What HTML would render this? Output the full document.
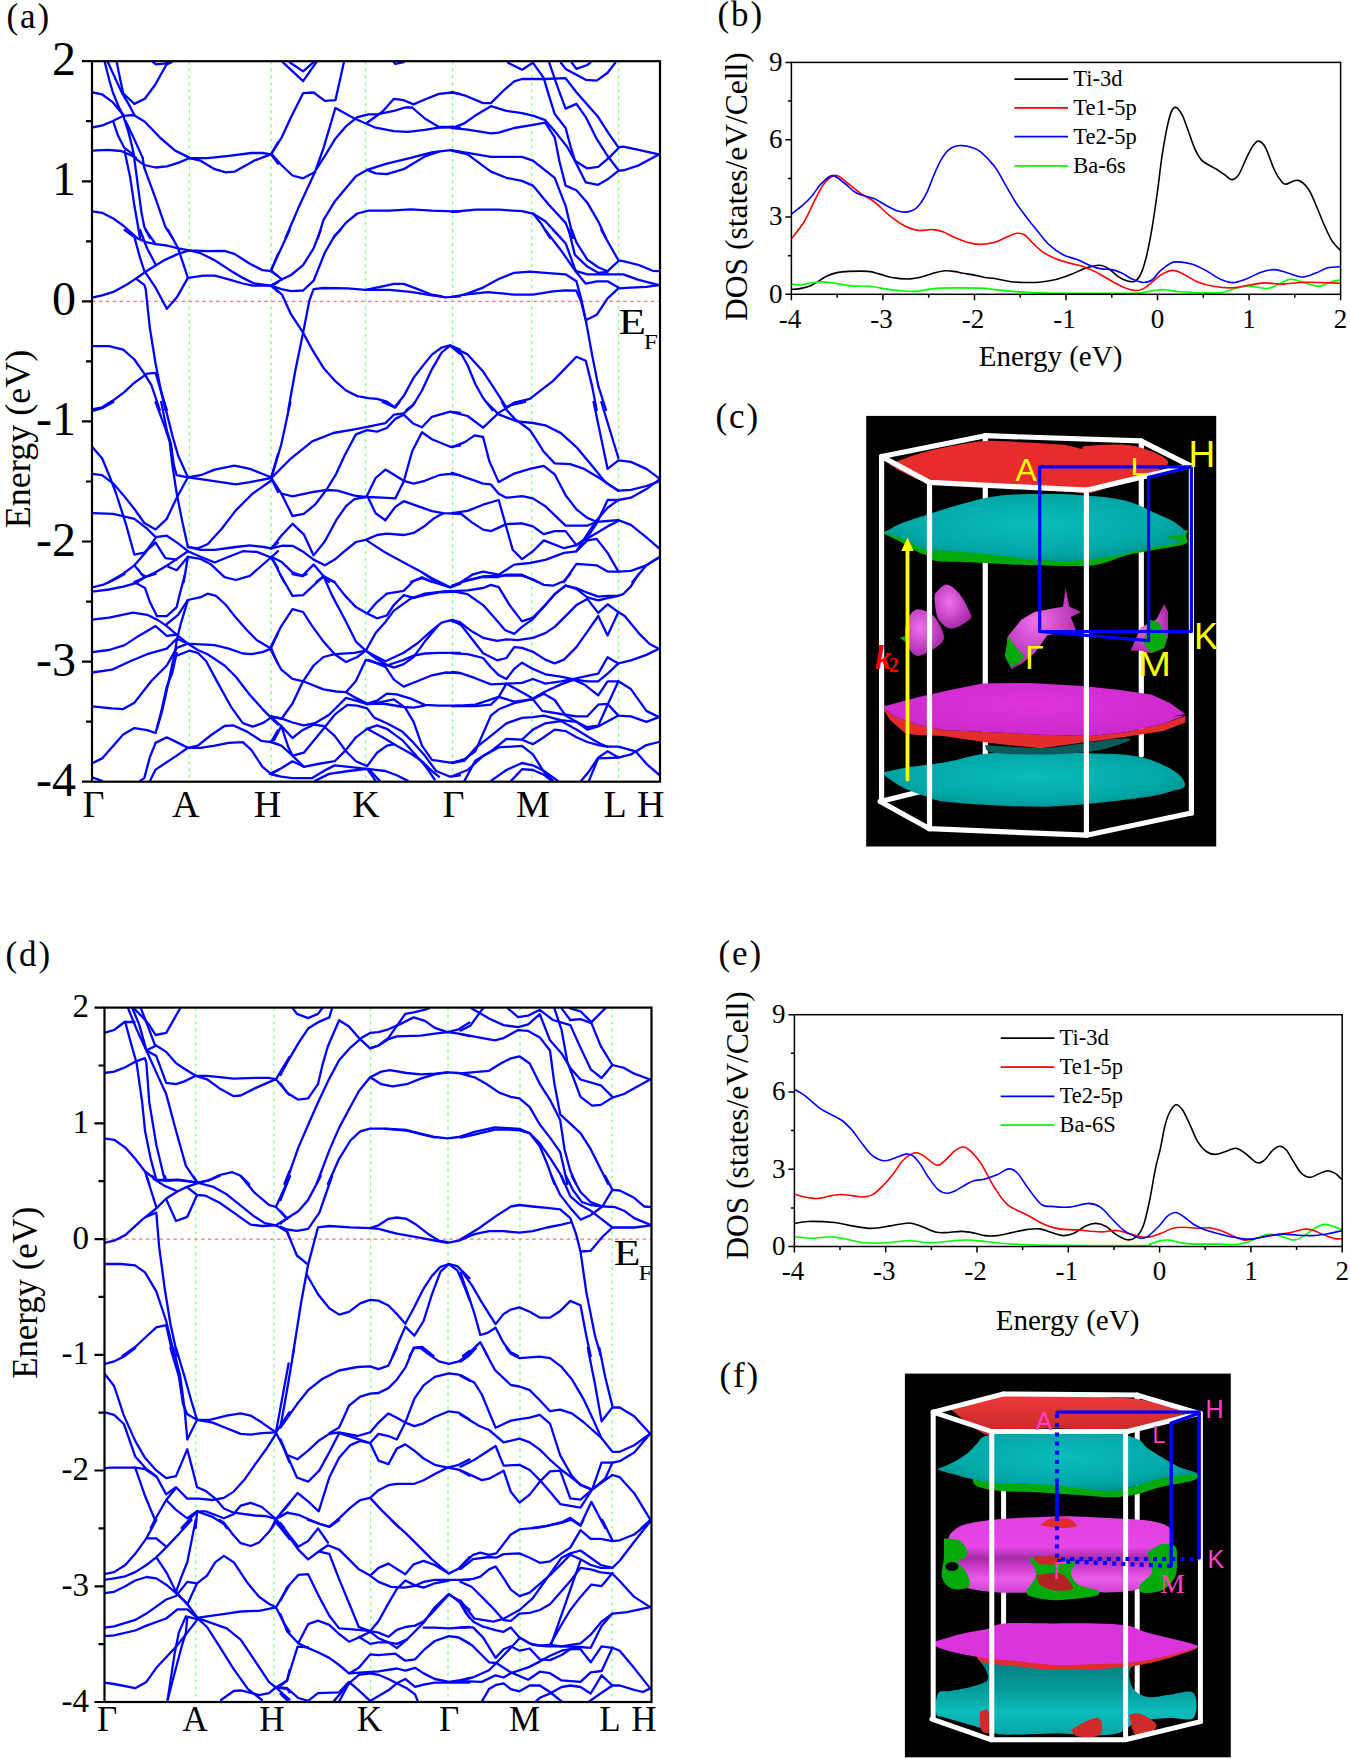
<!DOCTYPE html>
<html><head><meta charset="utf-8"><title>Figure</title>
<style>
html,body{margin:0;padding:0;background:#fff;}
body{width:1350px;height:1759px;overflow:hidden;}
svg{display:block;}
text{font-family:'Liberation Serif',serif;fill:#000;}
</style></head><body>
<svg width="1350" height="1759" viewBox="0 0 1350 1759">
<rect x="0" y="0" width="1350" height="1759" fill="#fff"/>
<text x="717.5" y="26" font-size="35" text-anchor="start" letter-spacing="1.9">(b)</text>
<clipPath id="clipb"><rect x="791.4" y="62.4" width="549.2" height="231.9"/></clipPath>
<g clip-path="url(#clipb)" fill="none" stroke-width="1.6" stroke-linejoin="round">
<path d="M791.7,289.3 C793.1,289.2 796.5,289.3 799.8,288.6 C803.1,287.9 807.2,287.2 811.7,285.2 C816.2,283.1 822.3,278.4 826.5,276.3 C830.7,274.2 833.2,273.4 836.9,272.6 C840.6,271.8 843.5,271.6 848.7,271.4 C853.9,271.2 862.8,270.9 868,271.4 C873.2,271.8 875.8,273.1 879.8,274.1 C883.8,275.1 887,276.7 891.7,277.5 C896.4,278.3 903.1,279.1 908,279 C912.9,278.9 917.1,277.9 921.3,277 C925.5,276.1 929.1,274.3 933.1,273.3 C937.1,272.3 941.3,271.1 945,270.8 C948.7,270.5 952.4,271.2 955.4,271.6 C958.4,272 959.6,272.7 962.8,273.3 C966,273.9 970.9,274.4 974.6,275.1 C978.3,275.8 981.6,276.9 985,277.5 C988.4,278.1 990.7,277.8 994.8,278.5 C998.9,279.2 1004.7,280.8 1009.6,281.5 C1014.5,282.2 1019.5,282.4 1024.4,282.5 C1029.4,282.6 1033.9,282.7 1039.3,282.2 C1044.7,281.7 1051.6,280.6 1057,279.3 C1062.4,278 1067,276 1071.9,274.1 C1076.9,272.2 1082,269.2 1086.7,267.7 C1091.4,266.2 1096.3,265 1100,265.2 C1103.7,265.4 1105.9,267 1108.9,268.9 C1111.9,270.8 1114.8,274.3 1117.8,276.3 C1120.8,278.3 1124,279.8 1126.7,280.7 C1129.4,281.6 1131.9,282.4 1134.1,281.5 C1136.3,280.6 1138,279.4 1140,275.6 C1142,271.8 1143.9,266.3 1145.9,258.5 C1147.9,250.7 1149.9,240.5 1151.9,228.9 C1153.9,217.3 1156.1,201.2 1157.8,188.9 C1159.5,176.6 1160.5,165.6 1162.2,154.8 C1163.9,144 1166.1,131.6 1167.8,124.1 C1169.5,116.6 1170.7,112.7 1172.2,110 C1173.7,107.3 1175,106.8 1176.7,107.8 C1178.4,108.8 1180.6,112 1182.6,115.9 C1184.6,119.9 1186.5,126.2 1188.5,131.5 C1190.5,136.8 1192.2,143 1194.4,147.8 C1196.6,152.6 1198.4,157 1201.9,160.4 C1205.4,163.8 1211.5,166.2 1215.2,168.5 C1218.9,170.8 1221.3,172.6 1224.1,174.4 C1226.9,176.2 1229.7,179.6 1232.2,179.6 C1234.7,179.6 1236.3,178.5 1238.9,174.4 C1241.5,170.3 1245.3,160.1 1247.8,155.2 C1250.3,150.3 1251.8,147.2 1253.7,144.8 C1255.6,142.5 1256.9,140.6 1258.9,141.1 C1260.9,141.6 1263,143 1265.6,147.8 C1268.2,152.6 1271.7,164.3 1274.4,170 C1277.1,175.7 1279.9,179.6 1281.9,181.9 C1283.9,184.2 1283.6,184.3 1286.3,184.1 C1289,183.8 1294.4,179.5 1298.1,180.4 C1301.8,181.3 1305.3,184.6 1308.5,189.3 C1311.7,194 1314.7,202.3 1317.4,208.5 C1320.1,214.7 1322.3,220.9 1324.8,226.3 C1327.3,231.7 1329.5,237 1332.2,241.1 C1334.9,245.2 1339.5,249.3 1341,251" stroke="#000"/>
<path d="M791.7,284.1 C793.1,284.2 797,285 799.8,284.9 C802.6,284.8 805,283.9 808.7,283.4 C812.4,282.9 817.5,281.9 822,281.9 C826.5,281.9 830.4,282.7 835.4,283.4 C840.4,284.1 846,285.4 851.7,285.9 C857.4,286.4 863.7,285.7 869.4,286.2 C875.1,286.7 880.5,288.1 885.7,288.9 C890.9,289.7 895.7,290.4 900.6,290.8 C905.5,291.2 911.2,291.5 915.4,291.4 C919.6,291.2 921.5,290.4 925.7,289.9 C929.9,289.3 931.6,288.4 940.6,288.1 C949.6,287.8 971,287.9 980,288.1 C989,288.4 989.9,289.1 994.8,289.6 C999.7,290.1 1003.4,290.6 1009.6,291.1 C1015.8,291.6 1022,292.2 1031.9,292.6 C1041.8,293 1052.9,293.2 1068.9,293.3 C1084.9,293.4 1115.8,293.4 1128.1,293.3 C1140.4,293.2 1138.5,293.1 1143,292.6 C1147.5,292.1 1151.2,290.9 1154.8,290.4 C1158.4,289.9 1160.7,289.5 1164.8,289.7 C1168.9,289.9 1173.4,291.3 1179.6,291.8 C1185.8,292.3 1195,292.6 1201.9,292.7 C1208.8,292.8 1215.9,293.3 1221.1,292.7 C1226.3,292.1 1228.5,290.4 1233,289.3 C1237.5,288.2 1242.1,286 1247.8,285.9 C1253.5,285.8 1261.8,288.8 1267,288.5 C1272.2,288.2 1275,285.6 1278.9,284.1 C1282.9,282.6 1286.5,279.6 1290.7,279.3 C1294.9,279.1 1299.4,281.4 1304.1,282.6 C1308.8,283.8 1314.5,286.4 1318.9,286.3 C1323.3,286.2 1327,283 1330.7,281.9 C1334.4,280.8 1339.3,280.2 1341,279.9" stroke="#0f0"/>
<path d="M791.7,238.5 C793.8,235.7 800.5,227.8 804.3,221.5 C808.1,215.2 811.4,206.9 814.6,200.7 C817.8,194.5 820.3,188.6 823.5,184.4 C826.7,180.2 831.2,176.8 833.9,175.6 C836.6,174.4 837.1,175.4 839.8,177 C842.5,178.6 846.7,182.5 850.2,185.2 C853.7,187.9 856.7,190.6 860.6,193.3 C864.5,196 869.2,197.9 873.9,201.5 C878.6,205.1 883.8,210.9 888.7,214.8 C893.6,218.8 898.6,222.6 903.5,225.2 C908.4,227.8 913.4,229.7 918.3,230.4 C923.2,231.1 928.9,229.3 933.1,229.6 C937.3,229.8 939.8,230.5 943.5,231.9 C947.2,233.3 951.4,236.1 955.4,237.8 C959.4,239.5 963.2,241.1 967.2,242.2 C971.2,243.3 974.5,244.4 979.1,244.4 C983.7,244.4 990.2,243.4 994.8,242.2 C999.4,241 1003,238.5 1006.7,237 C1010.4,235.5 1014,233.7 1017,233.3 C1020,232.9 1021.7,233.1 1024.4,234.8 C1027.1,236.5 1030.1,240.7 1033.3,243.7 C1036.5,246.7 1039.8,250 1043.7,252.6 C1047.7,255.2 1052.3,257.4 1057,259.3 C1061.7,261.2 1067.5,262.5 1071.9,263.7 C1076.4,264.9 1079.8,265.3 1083.7,266.7 C1087.7,268.1 1091.9,270 1095.6,271.9 C1099.3,273.8 1101.7,275.5 1105.9,277.8 C1110.1,280.1 1116,283.8 1120.7,285.9 C1125.4,288 1130.4,289.9 1134.1,290.4 C1137.8,290.9 1140,290.3 1143,288.9 C1146,287.5 1148.7,284.7 1151.9,282.2 C1155.1,279.7 1158.7,276.1 1162.2,274.1 C1165.7,272.1 1169.3,270.3 1173,270.4 C1176.7,270.4 1180,272.5 1184.1,274.4 C1188.2,276.3 1192.5,279.9 1197.4,281.9 C1202.3,283.9 1207.8,285.3 1213.7,286.3 C1219.6,287.3 1226.8,288.1 1233,287.8 C1239.2,287.6 1245.3,285.6 1250.7,284.8 C1256.1,284 1260.2,283 1265.6,282.9 C1271,282.8 1276.6,284.2 1283.3,284.1 C1290,284 1296,282.4 1305.6,282.3 C1315.2,282.2 1335.1,283.1 1341,283.3" stroke="#f00"/>
<path d="M791.7,214 C793.6,212.5 799.5,208.1 802.8,205.2 C806.1,202.2 808.7,199.8 811.7,196.3 C814.7,192.8 817.2,187.9 820.6,184.4 C824,180.9 828.5,175.8 832.4,175.6 C836.3,175.4 840.6,180.3 844.3,183 C848,185.7 851.4,189.8 854.6,191.9 C857.8,194 860.3,194.5 863.5,195.6 C866.7,196.7 870.2,196.9 873.9,198.5 C877.6,200.1 882,203.2 885.7,205.2 C889.4,207.2 892.6,209.2 896.1,210.4 C899.6,211.6 903.3,212.3 906.5,212.1 C909.7,211.8 912.9,210.6 915.4,208.9 C917.9,207.2 919.3,205 921.3,202.2 C923.3,199.4 925.2,196.1 927.2,191.9 C929.2,187.7 930.9,182.2 933.1,177 C935.3,171.8 938.1,165.1 940.6,160.7 C943.1,156.3 945.5,152.8 948,150.4 C950.5,148 952.9,147 955.4,146.2 C957.9,145.4 960.1,145.4 962.8,145.6 C965.5,145.8 968.7,146.3 971.7,147.4 C974.7,148.5 976.8,148.7 980.6,151.9 C984.5,155.1 990.7,161.3 994.8,166.7 C998.9,172.1 1001.7,178.5 1005.2,184.4 C1008.7,190.3 1011.9,196.5 1015.6,202.2 C1019.3,207.9 1023.5,213.3 1027.4,218.5 C1031.4,223.7 1035.6,228.9 1039.3,233.3 C1043,237.8 1045.6,241.6 1049.6,245.2 C1053.5,248.8 1058.5,252.5 1063,254.8 C1067.5,257.2 1071.6,257.5 1076.3,259.3 C1081,261.1 1086.9,264.3 1091.1,265.9 C1095.3,267.5 1098,268.3 1101.5,268.9 C1105,269.5 1108.5,268.9 1111.9,269.6 C1115.4,270.3 1118.8,271.7 1122.2,273.3 C1125.7,274.9 1129.1,277.8 1132.6,279.3 C1136.1,280.8 1139.8,282.4 1143,282.5 C1146.2,282.6 1149,282 1151.9,280 C1154.9,278 1157.5,273.2 1160.7,270.4 C1163.9,267.6 1168.4,264.4 1171.1,263 C1173.8,261.6 1173.3,261.7 1176.7,261.9 C1180.1,262.1 1186.6,262.6 1191.5,264.1 C1196.4,265.6 1201.4,268.1 1206.3,270.7 C1211.2,273.3 1216.6,277.6 1221.1,279.6 C1225.5,281.6 1228.8,282.7 1233,282.6 C1237.2,282.5 1241.6,280.6 1246.3,278.9 C1251,277.2 1256.4,273.8 1261.1,272.2 C1265.8,270.6 1270,269.5 1274.4,269.6 C1278.9,269.7 1283.1,271.8 1287.8,273 C1292.5,274.2 1297.9,277 1302.6,277 C1307.3,277 1311.7,274.5 1315.9,273 C1320.1,271.5 1323.6,268.9 1327.8,267.8 C1332,266.7 1338.8,266.8 1341,266.6" stroke="#00f"/>
</g>
<rect x="791.4" y="62.4" width="549.2" height="231.9" fill="none" stroke="#000" stroke-width="1.5"/>
<path d="M785.4,294.3 H791.4 M785.4,217 H791.4 M785.4,139.7 H791.4 M785.4,62.4 H791.4 M787.9,255.7 H791.4 M787.9,178.4 H791.4 M787.9,101.1 H791.4 M791.4,294.3 V300.3 M837.2,294.3 V297.8 M882.9,294.3 V300.3 M928.7,294.3 V297.8 M974.5,294.3 V300.3 M1020.2,294.3 V297.8 M1066,294.3 V300.3 M1111.8,294.3 V297.8 M1157.5,294.3 V300.3 M1203.3,294.3 V297.8 M1249.1,294.3 V300.3 M1294.8,294.3 V297.8 M1340.6,294.3 V300.3" stroke="#000" stroke-width="1.5" fill="none"/>
<text x="782.4" y="302.6" font-size="27" text-anchor="end" >0</text>
<text x="782.4" y="225.3" font-size="27" text-anchor="end" >3</text>
<text x="782.4" y="148" font-size="27" text-anchor="end" >6</text>
<text x="782.4" y="70.7" font-size="27" text-anchor="end" >9</text>
<text x="789.9" y="327.8" font-size="27" text-anchor="middle" >-4</text>
<text x="881.4" y="327.8" font-size="27" text-anchor="middle" >-3</text>
<text x="973" y="327.8" font-size="27" text-anchor="middle" >-2</text>
<text x="1064.5" y="327.8" font-size="27" text-anchor="middle" >-1</text>
<text x="1157.5" y="327.8" font-size="27" text-anchor="middle" >0</text>
<text x="1249.1" y="327.8" font-size="27" text-anchor="middle" >1</text>
<text x="1340.6" y="327.8" font-size="27" text-anchor="middle" >2</text>
<text x="1050.5" y="365.7" font-size="29" text-anchor="middle" >Energy (eV)</text>
<text x="0" y="0" font-size="31.5" text-anchor="middle" transform="translate(747,186.6) rotate(-90)">DOS (states/eV/Cell)</text>
<path d="M1014.4,79.2 H1068.1" stroke="#000" stroke-width="1.8"/>
<text x="1073.3" y="86.2" font-size="22.5" text-anchor="start" >Ti-3d</text>
<path d="M1014.4,107.8 H1068.1" stroke="#f00" stroke-width="1.8"/>
<text x="1073.3" y="114.8" font-size="22.5" text-anchor="start" >Te1-5p</text>
<path d="M1014.4,136.7 H1068.1" stroke="#00f" stroke-width="1.8"/>
<text x="1073.3" y="143.7" font-size="22.5" text-anchor="start" >Te2-5p</text>
<path d="M1014.4,165.9 H1068.1" stroke="#0f0" stroke-width="1.8"/>
<text x="1073.3" y="172.9" font-size="22.5" text-anchor="start" >Ba-6s</text>
<text x="718.5" y="965" font-size="35" text-anchor="start" letter-spacing="1.9">(e)</text>
<clipPath id="clipe"><rect x="794.4" y="1014.7" width="547.8" height="231.8"/></clipPath>
<g clip-path="url(#clipe)" fill="none" stroke-width="1.6" stroke-linejoin="round">
<path d="M794.7,1223.4 C796.9,1223.1 801.2,1221.7 807.8,1221.5 C814.4,1221.3 827,1221.8 834.4,1222.5 C841.8,1223.2 846,1224.9 852.2,1225.9 C858.4,1226.9 865.1,1228.4 871.5,1228.4 C877.9,1228.4 884.5,1226.8 890.7,1225.9 C896.9,1225 903.5,1223 908.5,1223 C913.5,1223 915.9,1224.4 920.4,1225.9 C924.9,1227.4 931,1230.8 935.2,1231.9 C939.4,1233 941.2,1232.7 945.6,1232.6 C950,1232.5 957,1231.3 961.9,1231.4 C966.8,1231.5 971.4,1232.6 975.2,1233.3 C979.1,1234 981.4,1235.2 985,1235.6 C988.6,1236 992.4,1236.1 996.9,1235.6 C1001.4,1235.1 1006.8,1233.6 1011.7,1232.6 C1016.6,1231.6 1021.8,1230.2 1026.5,1229.6 C1031.2,1229 1035.6,1228.4 1039.8,1228.9 C1044,1229.4 1047.8,1231.5 1051.7,1232.6 C1055.7,1233.7 1059.8,1235.5 1063.5,1235.6 C1067.2,1235.7 1070.2,1234.9 1073.9,1233.3 C1077.6,1231.7 1082,1227.6 1085.7,1225.9 C1089.4,1224.2 1092.6,1223.3 1096.1,1223.4 C1099.6,1223.5 1103.3,1224.9 1106.5,1226.7 C1109.7,1228.5 1112,1231.9 1115.4,1234.1 C1118.9,1236.3 1123.8,1239.2 1127.2,1239.7 C1130.7,1240.2 1133.4,1239.4 1136.1,1237 C1138.8,1234.6 1141.3,1231.1 1143.5,1225.2 C1145.7,1219.3 1147.4,1210.9 1149.4,1201.5 C1151.4,1192.1 1153.6,1177.7 1155.4,1168.9 C1157.2,1160.1 1158.8,1155.6 1160.4,1148.5 C1162,1141.4 1163.3,1132.2 1164.8,1126.3 C1166.3,1120.4 1167.4,1116.6 1169.3,1113 C1171.2,1109.4 1173.7,1105.3 1175.9,1104.8 C1178.1,1104.3 1180.2,1106.7 1182.6,1110 C1184.9,1113.3 1187.5,1119.6 1190,1124.8 C1192.5,1130 1194.7,1136.6 1197.4,1141.1 C1200.1,1145.5 1203.3,1149.3 1206.3,1151.5 C1209.3,1153.7 1212,1154.4 1215.2,1154.4 C1218.4,1154.4 1222.1,1152.5 1225.6,1151.5 C1229,1150.5 1232.7,1148 1235.9,1148.2 C1239.1,1148.5 1241.3,1150.6 1244.8,1153 C1248.3,1155.4 1253.5,1161.4 1256.7,1162.6 C1259.9,1163.8 1261.4,1162.5 1264.1,1160.4 C1266.8,1158.3 1270.4,1152.3 1273,1150 C1275.6,1147.7 1277.4,1146.3 1279.6,1146.3 C1281.8,1146.3 1283.9,1147.4 1286.3,1150 C1288.7,1152.6 1291.2,1158.1 1293.7,1161.9 C1296.2,1165.7 1298.4,1170.4 1301.1,1173 C1303.8,1175.6 1307,1177.3 1310,1177.4 C1313,1177.5 1315.9,1174.8 1318.9,1173.7 C1321.9,1172.6 1325.1,1170.8 1327.8,1170.7 C1330.5,1170.7 1332.8,1171.9 1335.2,1173.4 C1337.6,1174.9 1340.9,1178.6 1342,1179.6" stroke="#000"/>
<path d="M794.7,1236.7 C797.6,1237 806.1,1238.2 812.2,1238.2 C818.3,1238.2 825.8,1236.5 831.5,1236.7 C837.2,1236.9 840.9,1238.3 846.3,1239.3 C851.7,1240.3 858.2,1242.1 864.1,1242.7 C870,1243.3 874.5,1243.3 881.9,1243 C889.3,1242.7 900.4,1240.8 908.5,1240.7 C916.6,1240.7 923.3,1242.7 930.7,1242.7 C938.1,1242.7 946.8,1241.2 953,1240.7 C959.2,1240.2 962.5,1239.9 967.8,1240 C973.1,1240.1 978.4,1240.9 985,1241.5 C991.6,1242.1 997.3,1243.1 1007.2,1243.7 C1017.1,1244.3 1022.1,1244.9 1044.3,1245.2 C1066.5,1245.5 1123,1245.8 1140.6,1245.6 C1158.2,1245.4 1147,1244.8 1150,1244.1 C1153,1243.3 1155.7,1241.8 1158.9,1241.1 C1162.1,1240.4 1165.8,1239.8 1169.3,1240.1 C1172.8,1240.3 1175.4,1241.9 1179.6,1242.6 C1183.8,1243.3 1188.2,1243.8 1194.4,1244.1 C1200.6,1244.3 1209.8,1244 1216.7,1244.1 C1223.6,1244.2 1231,1244.8 1235.9,1244.5 C1240.8,1244.2 1242.8,1243.7 1246.3,1242.6 C1249.8,1241.5 1253,1239.5 1256.7,1238.1 C1260.4,1236.7 1264.8,1234.8 1268.5,1234.4 C1272.2,1234 1274.7,1234.6 1278.9,1235.6 C1283.1,1236.5 1289.5,1240 1293.7,1240.1 C1297.9,1240.1 1300.6,1237.8 1304.1,1235.9 C1307.5,1234 1311,1230.4 1314.4,1228.5 C1317.9,1226.6 1321.3,1224.7 1324.8,1224.4 C1328.3,1224.2 1332.3,1226.1 1335.2,1227 C1338.1,1227.9 1340.9,1229.5 1342,1230" stroke="#0f0"/>
<path d="M794.7,1194.1 C796.4,1194.6 800.9,1196.3 804.8,1197 C808.7,1197.7 814.1,1198.6 818.1,1198.5 C822.1,1198.4 824.8,1197 828.5,1196.3 C832.2,1195.6 836.4,1194.6 840.4,1194.5 C844.4,1194.4 848.5,1195.2 852.2,1195.6 C855.9,1196 859.1,1197.2 862.6,1197 C866.1,1196.8 869.3,1196.6 873,1194.4 C876.7,1192.2 881.3,1187.2 884.8,1183.7 C888.2,1180.2 890.7,1177.1 893.7,1173.3 C896.7,1169.5 899.2,1164.1 902.6,1160.7 C906,1157.3 911,1153.8 914.4,1152.9 C917.8,1152.1 919.6,1153.5 923.3,1155.6 C927,1157.6 933,1164.5 936.7,1165.2 C940.4,1165.9 942.7,1162.3 945.6,1160 C948.5,1157.7 951.5,1153.3 954.4,1151.1 C957.3,1148.9 960.6,1147 963.3,1147 C966,1147 968,1148.7 970.7,1151.1 C973.4,1153.5 977.2,1158.3 979.6,1161.5 C982,1164.7 982.6,1166.2 985,1170.4 C987.4,1174.6 990.2,1181 993.9,1186.7 C997.6,1192.4 1001.8,1199.7 1007.2,1204.4 C1012.6,1209.1 1020.3,1211.5 1026.5,1214.8 C1032.7,1218.1 1038.9,1222.1 1044.3,1224.4 C1049.7,1226.8 1053.7,1228 1059.1,1228.9 C1064.5,1229.8 1070,1229.4 1076.9,1229.9 C1083.8,1230.4 1094.2,1231.8 1100.6,1231.9 C1107,1232 1111.2,1230.3 1115.4,1230.4 C1119.6,1230.5 1121.5,1231.5 1125.7,1232.6 C1129.9,1233.6 1136.5,1236 1140.6,1236.7 C1144.6,1237.4 1146.5,1237.5 1150,1236.9 C1153.5,1236.3 1158.2,1234.4 1161.9,1233 C1165.6,1231.6 1168.8,1229.5 1172.2,1228.5 C1175.7,1227.5 1178.4,1227.3 1182.6,1227.3 C1186.8,1227.2 1193,1228.1 1197.4,1228.2 C1201.9,1228.3 1205.3,1227.4 1209.3,1227.8 C1213.2,1228.2 1217.1,1229.3 1221.1,1230.7 C1225,1232.1 1229,1234.3 1233,1235.9 C1237,1237.5 1240.8,1239.7 1244.8,1240.1 C1248.8,1240.5 1252.2,1238.9 1256.7,1238.1 C1261.2,1237.3 1266.3,1236 1271.5,1235.2 C1276.7,1234.4 1282.4,1234 1287.8,1233 C1293.2,1232 1299.9,1229.8 1304.1,1229.3 C1308.3,1228.8 1309.5,1229.3 1313,1230.3 C1316.5,1231.3 1321.1,1233.8 1324.8,1235.2 C1328.5,1236.6 1332.3,1238 1335.2,1238.6 C1338.1,1239.2 1340.9,1238.6 1342,1238.6" stroke="#f00"/>
<path d="M794.7,1089.6 C796.4,1090.6 800.6,1092.5 804.8,1095.6 C808.9,1098.7 814.7,1104.6 819.6,1108.1 C824.5,1111.5 830.5,1114.1 834.4,1116.3 C838.3,1118.5 840.3,1119.2 843.3,1121.5 C846.3,1123.8 849.2,1127 852.2,1130.4 C855.2,1133.9 857.9,1138.1 861.1,1142.2 C864.3,1146.3 867.8,1151.7 871.5,1154.8 C875.2,1157.9 879.6,1160.1 883.3,1160.7 C887,1161.3 890,1159.6 893.7,1158.5 C897.4,1157.4 902.4,1154.5 905.6,1154.1 C908.8,1153.7 910.5,1154.2 913,1155.9 C915.5,1157.6 917.7,1160.6 920.4,1164.4 C923.1,1168.2 926.3,1174.3 929.3,1178.5 C932.2,1182.7 935.1,1187.1 938.1,1189.6 C941.1,1192.1 944,1193.2 947,1193.3 C950,1193.4 952.9,1191.8 955.9,1190.4 C958.9,1189.1 961.8,1186.8 964.8,1185.2 C967.8,1183.6 970.3,1181.7 973.7,1180.7 C977.1,1179.7 981.1,1180 985,1179 C988.9,1178 992.9,1176.5 996.9,1174.8 C1000.9,1173.1 1005.2,1169.2 1008.7,1168.9 C1012.2,1168.7 1014.4,1170.1 1017.6,1173.3 C1020.8,1176.5 1024,1182.9 1028,1188.1 C1032,1193.3 1037.3,1201.4 1041.3,1204.4 C1045.2,1207.5 1047,1206 1051.7,1206.4 C1056.4,1206.9 1063.2,1207.6 1069.4,1207.1 C1075.6,1206.6 1083.5,1203.4 1088.7,1203.4 C1093.9,1203.5 1096.9,1205 1100.6,1207.4 C1104.3,1209.8 1107.2,1214.1 1110.9,1217.8 C1114.6,1221.5 1119.1,1226.6 1122.8,1229.6 C1126.5,1232.6 1130.1,1234.2 1133.1,1235.6 C1136.1,1237 1138.1,1238.1 1140.6,1238.2 C1143.1,1238.3 1144.8,1238.5 1148,1236.3 C1151.2,1234.1 1156.5,1228.6 1159.8,1225.2 C1163.1,1221.8 1165.1,1218 1167.8,1215.9 C1170.5,1213.8 1173.2,1212.3 1175.9,1212.5 C1178.6,1212.7 1181,1215 1184.1,1217 C1187.2,1219 1190.7,1222.6 1194.4,1224.8 C1198.1,1227 1201.3,1228.6 1206.3,1230.3 C1211.2,1232 1218.2,1233.8 1224.1,1235.2 C1230,1236.6 1237,1238 1241.9,1238.6 C1246.8,1239.2 1249.3,1239.4 1253.7,1238.9 C1258.1,1238.5 1263.6,1236.7 1268.5,1235.9 C1273.4,1235.1 1278.4,1234.2 1283.3,1234.1 C1288.2,1234 1293.1,1235 1298.1,1235.2 C1303,1235.5 1308,1235.8 1313,1235.6 C1318,1235.3 1323,1234.5 1327.8,1233.7 C1332.6,1232.9 1339.6,1231.2 1342,1230.7" stroke="#00f"/>
</g>
<rect x="794.4" y="1014.7" width="547.8" height="231.8" fill="none" stroke="#000" stroke-width="1.5"/>
<path d="M788.4,1246.5 H794.4 M788.4,1169.2 H794.4 M788.4,1092 H794.4 M788.4,1014.7 H794.4 M790.9,1207.9 H794.4 M790.9,1130.6 H794.4 M790.9,1053.3 H794.4 M794.4,1246.5 V1252.5 M840,1246.5 V1250 M885.7,1246.5 V1252.5 M931.4,1246.5 V1250 M977,1246.5 V1252.5 M1022.6,1246.5 V1250 M1068.3,1246.5 V1252.5 M1114,1246.5 V1250 M1159.6,1246.5 V1252.5 M1205.2,1246.5 V1250 M1250.9,1246.5 V1252.5 M1296.6,1246.5 V1250 M1342.2,1246.5 V1252.5" stroke="#000" stroke-width="1.5" fill="none"/>
<text x="785.4" y="1254.8" font-size="27" text-anchor="end" >0</text>
<text x="785.4" y="1177.5" font-size="27" text-anchor="end" >3</text>
<text x="785.4" y="1100.3" font-size="27" text-anchor="end" >6</text>
<text x="785.4" y="1023" font-size="27" text-anchor="end" >9</text>
<text x="792.9" y="1280" font-size="27" text-anchor="middle" >-4</text>
<text x="884.2" y="1280" font-size="27" text-anchor="middle" >-3</text>
<text x="975.5" y="1280" font-size="27" text-anchor="middle" >-2</text>
<text x="1066.8" y="1280" font-size="27" text-anchor="middle" >-1</text>
<text x="1159.6" y="1280" font-size="27" text-anchor="middle" >0</text>
<text x="1250.9" y="1280" font-size="27" text-anchor="middle" >1</text>
<text x="1342.2" y="1280" font-size="27" text-anchor="middle" >2</text>
<text x="1067.5" y="1330.4" font-size="29" text-anchor="middle" >Energy (eV)</text>
<text x="0" y="0" font-size="31.5" text-anchor="middle" transform="translate(748,1125.5) rotate(-90)">DOS (states/eV/Cell)</text>
<path d="M1000.7,1038.1 H1054.4" stroke="#000" stroke-width="1.8"/>
<text x="1059.6" y="1045.1" font-size="22.5" text-anchor="start" >Ti-3d</text>
<path d="M1000.7,1067.1 H1054.4" stroke="#f00" stroke-width="1.8"/>
<text x="1059.6" y="1074.1" font-size="22.5" text-anchor="start" >Te1-5p</text>
<path d="M1000.7,1096.3 H1054.4" stroke="#00f" stroke-width="1.8"/>
<text x="1059.6" y="1103.3" font-size="22.5" text-anchor="start" >Te2-5p</text>
<path d="M1000.7,1125.2 H1054.4" stroke="#0f0" stroke-width="1.8"/>
<text x="1059.6" y="1132.2" font-size="22.5" text-anchor="start" >Ba-6S</text>
<text x="6.5" y="28" font-size="35" text-anchor="start" letter-spacing="1.9">(a)</text>
<path d="M189.3,61.2 V781.7" stroke="#80ff80" stroke-width="1.3" stroke-dasharray="3,4" fill="none"/>
<path d="M271.2,61.2 V781.7" stroke="#80ff80" stroke-width="1.3" stroke-dasharray="3,4" fill="none"/>
<path d="M365.5,61.2 V781.7" stroke="#80ff80" stroke-width="1.3" stroke-dasharray="3,4" fill="none"/>
<path d="M452.6,61.2 V781.7" stroke="#80ff80" stroke-width="1.3" stroke-dasharray="3,4" fill="none"/>
<path d="M531.7,61.2 V781.7" stroke="#80ff80" stroke-width="1.3" stroke-dasharray="3,4" fill="none"/>
<path d="M618.6,61.2 V781.7" stroke="#80ff80" stroke-width="1.3" stroke-dasharray="3,4" fill="none"/>
<path d="M92,301.4 H660" stroke="#ff6e6e" stroke-width="1.3" stroke-dasharray="3.4,3.5" fill="none"/>
<path d="M82,781.7 H92 M82,661.6 H92 M82,541.5 H92 M82,421.4 H92 M82,301.4 H92 M82,181.3 H92 M82,61.2 H92 M86,721.7 H92 M86,601.6 H92 M86,481.5 H92 M86,361.4 H92 M86,241.3 H92 M86,121.2 H92" stroke="#000" stroke-width="2.2" fill="none"/>
<text x="76" y="795.6" font-size="48" text-anchor="end" >-4</text>
<text x="76" y="675.5" font-size="48" text-anchor="end" >-3</text>
<text x="76" y="555.5" font-size="48" text-anchor="end" >-2</text>
<text x="76" y="435.4" font-size="48" text-anchor="end" >-1</text>
<text x="76" y="315.3" font-size="48" text-anchor="end" >0</text>
<text x="76" y="195.2" font-size="48" text-anchor="end" >1</text>
<text x="76" y="75.1" font-size="48" text-anchor="end" >2</text>
<text x="93.4" y="816.7" font-size="38" text-anchor="middle" >&#915;</text>
<text x="185.8" y="816.7" font-size="38" text-anchor="middle" >A</text>
<text x="267.4" y="816.7" font-size="38" text-anchor="middle" >H</text>
<text x="366" y="816.7" font-size="38" text-anchor="middle" >K</text>
<text x="453.4" y="816.7" font-size="38" text-anchor="middle" >&#915;</text>
<text x="533" y="816.7" font-size="38" text-anchor="middle" >M</text>
<text x="615" y="816.7" font-size="38" text-anchor="middle" >L</text>
<text x="650.7" y="816.7" font-size="38" text-anchor="middle" >H</text>
<text x="0" y="0" font-size="36" transform="translate(618.5,333.8) scale(1.25,1)">E</text>
<text x="0" y="0" font-size="21.6" transform="translate(643.8,348.9) scale(1.18,1)">F</text>
<text x="0" y="0" font-size="36" text-anchor="middle" transform="translate(30,439) rotate(-90)">Energy (eV)</text>
<clipPath id="clipA"><rect x="92" y="61.2" width="568" height="720.5"/></clipPath>
<g clip-path="url(#clipA)" fill="none" stroke="#00f" stroke-width="2.3" stroke-linejoin="round" stroke-linecap="round">
<path d="M104.8,62.1 L109.3,80.2 L113,92.8 L118.1,105.4 L123.3,115.8 L128.5,132.1 L132.2,146.9 L134.4,157.3"/>
<path d="M107.8,62.1 L114.4,76.5 L121.9,92.8 L128.5,103.9 L134.4,115"/>
<path d="M116.7,62.1 L120.4,80.2 L123.3,93.6 L134.4,103.9 L144.8,98.7 L155.2,84.7 L166.3,64.7 L171.5,62.1"/>
<path d="M153,62.1 L155.9,64.3 L164.1,63.6 L167.8,63.2"/>
<path d="M91.5,92.1 L101.9,94.3 L113,102.4 L123.3,115"/>
<path d="M91.5,127.6 L102.6,125.4 L113,121 L123.3,115.8 L133.7,115 L144.8,121.7 L160.4,138 L175.2,150.6 L189.3,157.6"/>
<path d="M113,121 L118.1,135.8 L124.1,147.6 L133,154.3"/>
<path d="M125.6,121 L134.4,139.5 L142.6,157.6"/>
<path d="M91.5,150.6 L107.8,149.9 L121.1,151 L128.5,154.3 L135.9,157.6"/>
<path d="M134.4,157.9 L144.3,165 L155.6,167.5 L166.8,166.4 L178.1,162.9 L189.3,158.2"/>
<path d="M189.3,158.2 L207.6,158.2 L228.7,155.8 L251.3,153 L262.5,153 L271,154.4"/>
<path d="M189.3,158.2 L200.6,160.7 L214.7,169.2 L225.9,172.3 L234.4,171.7 L254.1,160.7 L271,154.4"/>
<path d="M271,154.4 L278,142.4"/>
<path d="M271,154.4 L278,163.6"/>
<path d="M124.6,150.9 L130.2,177.6 L134.4,205.8 L140.1,238"/>
<path d="M134.4,159.3 L141.5,212.8 L144.3,226.9 L149.9,238"/>
<path d="M144.3,167.8 L155.6,198.7 L165.4,226.9 L172.4,238"/>
<path d="M92.2,211.4 L102.1,212.8 L113.3,218.5 L123.2,225.5 L137.3,238"/>
<path d="M282.7,62.2 L303.1,81.2 L316.4,62.2"/>
<path d="M289.7,62.2 L303.1,71.4 L313.6,62.2"/>
<path d="M271.4,153.7 L281.3,138.2 L291.1,117.1 L303.1,93.2 L313.6,92.5 L324.9,100.9 L335.4,100.2 L343.9,62.2"/>
<path d="M271.4,153.7 L281.3,165 L292.5,175.5 L303.1,178.3 L315,172"/>
<path d="M285.5,238 L298.1,208.6 L315,172 L323.5,148.1 L335.4,108 L354.4,118.5 L375.6,127.7 L393.9,131.2 L407.9,131.9 L424.8,129.8 L438.9,127.7 L453,127 L460,127.7"/>
<path d="M317.9,238 L323.5,219.9 L334.7,201.6 L355.9,176.2 L367.1,169.9 L386.8,163.6 L410.7,157.9 L431.9,152.3 L450.2,150.2 L460,151.6"/>
<path d="M367.1,169.9 L375.6,173.4 L386.8,174.1 L403.7,169.2 L424.8,156.5 L438.9,151.6"/>
<path d="M316.4,169.2 L326.3,153.7 L334.7,139.6 L346,126.3 L357.3,117.1 L368.5,114.3 L377,114.3 L393.9,110.8 L405.1,107.5 L412.2,107.5 L424.8,118.5 L438.9,127 L453,127"/>
<path d="M367.1,122.7 L382.6,111.5 L393.9,98.8 L403.7,100.2 L413.6,104.4 L424.8,99.5 L438.9,93.9 L451.6,92.5 L460,93.9"/>
<path d="M333.3,238 L346,222.7 L357.3,213.5 L368.5,210.7 L389.6,210.7 L410.7,209.3 L431.9,210.7 L453,211.4 L460,211.4"/>
<path d="M393.9,62.2 L395.3,63.9 L403.7,62.2"/>
<path d="M508,62.7 L522,69.7 L532.9,62.7"/>
<path d="M532.9,62.7 L543.8,78.2 L548.4,93.8 L554.7,114 L565.6,128 L570.2,145.1 L574.9,160.7 L587.3,168.4 L598.2,166.9 L609.1,157.6 L618.4,148.2"/>
<path d="M549.2,62.7 L557.8,87.6 L565.6,108.6 L576.4,103.9 L585.8,117.1 L596.7,138.9 L607.6,156 L618.4,170"/>
<path d="M560.9,62.7 L565.6,68.9 L585.8,79.8 L596.7,80.6 L607.6,72.8 L615.3,62.7"/>
<path d="M571.8,62.7 L576.4,68.9 L587.3,65 L590.4,62.7"/>
<path d="M452,92.2 L464.4,95.3 L483.1,103.1 L490.9,103.1 L503.3,90.7 L514.2,81.3 L522,79 L545.3,79 L565.6,78.2 L576.4,92.2 L598.2,117.1 L609.1,134.2 L618.4,147.4"/>
<path d="M452,128 L464.4,123.3 L475.3,115.6 L490.9,106.2 L506.4,110.9 L522,113.2 L532.9,115.6 L545.3,120.2 L554.7,131.1 L567.1,146.7 L574.9,160.7 L585.8,182.4 L598.2,184.8 L607.6,179.3 L618.4,170.8 L624.7,170 L638.7,165.3 L658.9,154.4"/>
<path d="M452,128 L467.6,129.6 L490.9,133.4 L498.7,132.7 L514.2,128 L532.9,124.9 L545.3,122.6 L554.7,137.3 L559.3,160.7 L565.6,185.6 L576.4,190.2 L587.3,202.7 L598.2,221.3 L606,238"/>
<path d="M618.4,147.4 L623.1,146.7 L638.7,149.8 L658.9,154.4"/>
<path d="M452,150.6 L467.6,152.9 L490.9,156.8 L522,156.8 L532.9,160.7 L554.7,177.8 L565.6,205.8 L573.3,238"/>
<path d="M452,150.6 L467.6,154.4 L490.9,171.6 L506.4,177.8 L522,180.9 L532.9,185.6 L548.4,204.2 L565.6,222.9 L571.8,238"/>
<path d="M452,212 L475.3,209.7 L498.7,209.7 L522,211.2 L532.9,213.6 L545.3,221.3 L560.9,238"/>
<path d="M532.9,213.6 L540.7,222.9 L550,238"/>
<path d="M124.6,230 L134.4,237 L145.7,242 L155.6,244.1 L166.8,245.5 L178.1,248.3 L189.3,250.4 L207.6,251.1 L224.5,250.8 L234.4,253.9 L249.9,263.8 L262.5,270.1 L271,271.1"/>
<path d="M271,271.1 L278,253.9"/>
<path d="M271,271.1 L278,276.4"/>
<path d="M134.4,237 L140.1,258.1 L144.3,270.8 L155.6,287.7 L166.8,308.8 L176.7,297.6 L187.9,277.9"/>
<path d="M187.9,277.9 L203.4,275.7 L214.7,275.7 L228.7,279.3 L242.8,283.5 L252.7,285.6 L271,285.6 L278,282.1"/>
<path d="M189.3,250.4 L200.6,253.2 L214.7,260.3 L228.7,269.4 L242.8,277.9 L254.1,283.5 L271,285.6 L278,291.9"/>
<path d="M92.2,297.6 L102.1,295.4 L113.3,291.9 L127.4,284.2 L135.9,278.6 L147.1,270.8 L165.4,259.6 L178.1,253.9 L189.3,250.4"/>
<path d="M135.9,278.6 L144.3,284.9 L145.7,289.1 L149.9,328.5 L155.6,363.7 L161.2,391.9 L166.8,410"/>
<path d="M140.1,230 L147.1,248.3 L155.6,264.5"/>
<path d="M145.7,230 L155.6,244.1"/>
<path d="M168.2,230 L178.1,248.3 L187.9,277.9"/>
<path d="M92.2,346.1 L109.1,346.1 L123.2,349.6 L134.4,359.5 L144.3,373.6 L151.3,384.8 L159.8,410"/>
<path d="M92.2,409.5 L102.1,407.3 L113.3,400.3 L124.6,391.9 L134.4,382.7 L147.1,373.6 L155.6,372.9 L161.2,391.9 L165.4,410"/>
<path d="M289.7,230 L271.4,269.4"/>
<path d="M271.4,270.8 L282,279.3"/>
<path d="M320.7,230 L313.6,248.3 L303.1,265.2 L291.1,275 L282,279.3 L271.4,285.6"/>
<path d="M340.4,230 L334.7,235.6 L324.9,252.5 L313.6,280.7 L303.1,290.5 L291.1,291.2 L281.3,289.1 L271.4,285.6"/>
<path d="M271.4,285.6 L282,294.7 L291.1,314.4 L303.1,332.7 L312.2,349.6 L323.5,367.9 L334.7,380.6 L346,390.5 L357.3,396.1 L368.5,398.2 L377,398.9 L386.8,401.7 L394.6,407.3 L403.7,396.1 L413.6,377.8 L423.4,365.1 L431.9,354.6 L441.7,347.5 L450.2,345.4 L460,349.6"/>
<path d="M288.3,410 L295.3,370.7 L303.1,332.7 L309.4,300.4 L313.6,289.1 L323.5,288 L347.4,288.4 L365.7,289.8 L389.6,289.8 L410.7,291.9 L431.9,295.4 L445.9,297.3 L460,296.4"/>
<path d="M365.7,289.8 L382.6,286.3 L393.9,283.8 L403.7,283.8 L417.8,289.1 L431.9,294.7 L441.7,296.4"/>
<path d="M406.5,410 L413.6,404.5 L422,390.5 L431.9,369.3 L441.7,352.4 L450.2,345.7"/>
<path d="M450.2,345.7 L460,353.9"/>
<path d="M545.3,230 L560.9,250.2 L574.9,270.4 L585.8,283.7 L596.7,281.3 L607.6,281.3 L618.4,287.6"/>
<path d="M553.1,230 L565.6,243.2 L574.9,268.9 L576.4,271.2 L587.3,274.3 L607.6,274.3 L623.1,274.3 L638.7,279.8 L658.9,285.2"/>
<path d="M568.7,230 L574.9,254.9 L587.3,266.6 L598.2,272.8 L607.6,272"/>
<path d="M571.8,230 L576.4,242.4 L587.3,259.6 L598.2,267.3 L607.6,271.2 L618.4,261.1"/>
<path d="M601.3,230 L609.1,244 L618.4,260.3 L623.1,261.1 L638.7,265 L652.7,270.8 L658.9,271.2"/>
<path d="M452,296.9 L464.4,294.6 L483.1,287.6 L498.7,279 L514.2,272.8 L529.8,271.7 L545.3,272.8 L565.6,274.3 L576.4,281.3 L581.1,298.4 L585.8,320.2 L592,354.4 L598.2,385.6 L606,410"/>
<path d="M464.4,294.6 L487.8,292.2 L514.2,294.6 L532.9,294.6 L553.1,291.4 L565.6,290.4 L576.4,290.7 L581.1,301.6 L585.8,320.2 L596.7,314.8 L607.6,298.4 L618.4,288.3 L630.9,287.6 L646.4,286.8 L658.9,285.2"/>
<path d="M452,346.7 L467.6,354.4 L483.1,371.6 L492.4,385.6 L506.4,407.3 L514.2,402.7 L529.8,398.8 L553.1,380.9 L576.4,356.8 L585.8,360.7 L592,385.6 L596.7,410"/>
<path d="M452,346.7 L459.8,351.3 L467.6,365.3 L475.3,384 L483.1,398 L492.4,410"/>
<path d="M92.2,411.1 L103.5,407.6 L113.3,402"/>
<path d="M155.6,402 L165.4,428.7 L169.6,441.4 L172.4,465.3 L176.7,493.5 L182.3,521.6 L187.9,547"/>
<path d="M161.2,402 L166.8,430.1 L171,444.2 L173.9,465.3 L176.7,475.2 L187.9,477.3"/>
<path d="M164,402 L172.4,435.8 L178.1,455.5 L187.9,477.3"/>
<path d="M187.9,477.3 L200.6,475.2 L214.7,469.6 L234.4,465.6 L249.9,468.9 L271,477.3"/>
<path d="M187.9,477.3 L207.6,480.1 L235.8,484.3 L249.9,482.2 L271,478"/>
<path d="M271,478 L278,454.1"/>
<path d="M271,478 L278,492.1"/>
<path d="M187.9,477.3 L176.7,497.7 L166.8,518.8 L155.6,529.4 L144.3,523 L134.4,509 L123.2,494.9 L113.3,483.6 L102.1,475.2 L92.2,473.8"/>
<path d="M92.2,447 L102.1,458.3 L109.1,475.2 L116.1,493.5 L126,524.4 L134.4,554.7 L144.3,552.6 L155.6,542.7"/>
<path d="M92.2,513.2 L113.3,513.9 L134.4,518.8 L147.1,528.7 L155.6,537.1 L166.8,535.7 L178.1,543.4 L187.9,551.2 L200.6,556.8 L214.7,562.5 L228.7,556.8 L242.8,551.2 L256.9,551.9 L271,557.5"/>
<path d="M109.1,582 L123.2,573.7 L134.4,565.3 L144.3,554 L155.6,537.8"/>
<path d="M134.4,565.3 L144.3,577.2"/>
<path d="M134.4,582 L155.6,572.3 L169.6,563.9 L187.9,551.2"/>
<path d="M155.6,542.7 L165.4,558.2 L176.7,559.6"/>
<path d="M168.2,566.7 L176.7,570.2 L187.9,556.8"/>
<path d="M187.9,547 L200.6,549.8 L214.7,549.8 L235.8,547 L249.9,545.3 L263.9,547 L271,548.4 L278,542.7"/>
<path d="M187.9,547 L197.8,548.4 L207.6,544.2 L221.7,528.7 L235.8,510.4 L252.7,493.5 L271,480.8"/>
<path d="M187.9,556.8 L200.6,558.9 L210.4,563.9 L224.5,577.2 L235.8,580 L249.9,575.8 L271,557.5"/>
<path d="M183.7,582 L187.9,556.8"/>
<path d="M271,557.5 L278,551.2"/>
<path d="M271,557.5 L278,568.1"/>
<path d="M290.4,402 L281.3,444.2 L271.4,478"/>
<path d="M271.4,478 L291.1,458.3 L312.2,441.4 L333.3,433 L354.4,429.4 L368.5,426.6 L385.4,423.1 L393.9,414.7 L403.7,413.3 L412.2,406.2 L415,402"/>
<path d="M271.4,478 L281.3,493.5 L292.5,496.3 L312.2,492.1 L326.3,490 L337.6,490.7 L354.4,495.6 L365.7,497 L382.6,497.7 L395.3,498.4 L403.7,481.5 L412.2,451.3 L422,432.3 L431.9,439.3 L450.2,446.8 L460,445.6"/>
<path d="M281.3,493.5 L292.5,516 L303.8,513.9 L315,504.7 L326.3,490 L336.2,473.8 L344.6,455.5 L355.9,434.4 L367.1,430.1 L377,431.6 L386.8,428 L395.3,418.9 L403.7,414.7 L413.6,423.8 L422,427.3 L431.9,416.8 L450.2,411.6 L460,413"/>
<path d="M382.6,402 L395.3,407.6 L399.5,402"/>
<path d="M460,475.2 L450.2,473.8 L438.9,475.2 L424.8,480.8 L413.6,483.6 L403.7,480.8 L392.4,473.8 L385.4,469.6 L375.6,478 L367.1,495.6 L375.6,513.2 L385.4,520.2 L395.3,506.9 L403.7,501.2 L417.8,506.2 L431.9,511.1 L443.1,513.2 L460,513.9"/>
<path d="M365.7,497 L354.4,499.1 L346,506.2 L336.2,520.2 L324.9,541.3 L313.6,555.4 L303.8,534.3 L292.5,523.7 L281.3,535.7 L271.4,548.4"/>
<path d="M271.4,548.4 L282.7,545.6 L292.5,545.8 L302.4,551.2 L313.6,559.6 L324.9,565.3 L334.7,559.6 L344.6,551.2 L355.9,542 L365.7,539.9 L377,535 L386.8,533.6 L403.7,535 L413.6,532.9 L424.8,525.9 L433.3,518.8 L443.1,513.2"/>
<path d="M367.1,540.6 L385.4,552.6 L403.7,562.5 L422,572.3 L436.1,582"/>
<path d="M271.4,556.8 L281.3,561.7 L292.5,572.3 L302.4,575.8 L313.6,564.6 L326.3,579.3 L329.1,582"/>
<path d="M271.4,556.8 L284.1,582"/>
<path d="M316.4,582 L323.5,576.5 L334.7,582"/>
<path d="M410.7,582 L422,577.2 L431.9,582"/>
<path d="M486.2,402 L498.7,414.4 L517.3,421.4 L532.9,423 L545.3,425.3 L560.9,433.1 L576.4,447.1 L592,465.8 L606,482.9 L618.4,490.7"/>
<path d="M501.8,402 L506.4,409.8 L514.2,418.3 L529.8,430 L536,439.3 L543.8,451.8 L554.7,463.4 L570.2,464.2 L584.2,468.9 L599.8,478.2 L618.4,490.7"/>
<path d="M525.1,402 L511.1,405.1 L498.7,412.9 L483.1,427.7 L467.6,416 L452,412.1"/>
<path d="M452,447.1 L464.4,442.4 L474.6,435.4 L483.1,437 L489.3,461.1 L498.7,482.1 L514.2,473.6 L529.8,468.9 L543.8,465.8 L554.7,474.3 L565.6,495.3 L576.4,509.3 L587.3,517.9 L596.7,521.8 L607.6,521 L618.4,520.2 L630.9,524.9 L646.4,537.3 L658.9,548.2"/>
<path d="M593.6,402 L607.6,468.9 L618.4,460.3 L630.9,461.9 L646.4,468.9 L658.9,478.2"/>
<path d="M601.3,402 L618.4,458"/>
<path d="M618.4,490.7 L630.9,489.9 L646.4,486 L658.9,481.3"/>
<path d="M658.9,479.8 L646.4,489.1 L630.9,497.7 L618.4,500 L607.6,500 L596.7,523.3 L587.3,537.3 L576.4,545.1 L564,548.2 L543.8,540.4 L532.9,551.3 L522,559.1 L512.7,549.8 L498.7,500 L483.1,504.7 L467.6,510.9 L452,513.2"/>
<path d="M452,472.8 L467.6,478.2 L483.1,483.7 L490.9,484.4 L498.7,493.8 L506.4,497.7 L522,496.1 L532.9,498.4 L545.3,506.2 L565.6,525.7 L587.3,525.7 L596.7,521.8"/>
<path d="M452,513.2 L461.3,514 L472.2,522.6 L483.1,529.6 L490.9,531.1 L506.4,524.1 L522,523.3 L532.9,526.4 L543.8,534.2 L554.7,531.1 L565.6,531.1 L576.4,545.1"/>
<path d="M618.4,500 L607.6,507.8 L596.7,520.2 L587.3,534.2 L576.4,551.3 L564,552.9 L545.3,559.9 L529.8,563 L514.2,564.6 L498.7,574.7 L483.1,571.6 L472.2,574.7 L461.3,582"/>
<path d="M576.4,545.1 L592,535.8 L607.6,526.4 L618.4,521"/>
<path d="M576.4,551.3 L587.3,540.4 L596.7,538.9 L607.6,552.9 L618.4,571.6"/>
<path d="M618.4,571.6 L630.9,570.8 L646.4,565.3 L658.9,557.6"/>
<path d="M658.9,557.6 L646.4,565.3 L632.4,582"/>
<path d="M618.4,571.6 L607.6,571.6 L596.7,565.3 L576.4,563.8 L564,582"/>
<path d="M461.3,582 L483.1,577 L498.7,577 L506.4,574.7 L522,574.7 L537.6,582"/>
<path d="M92.2,587.4 L103.5,584.6 L113.3,580.3 L124.6,574"/>
<path d="M92.2,591.6 L109.1,589.5 L123.2,586.7 L135.9,583.1 L145.7,576.8 L155.6,574"/>
<path d="M141.5,574 L145.7,576.8"/>
<path d="M135.9,583.1 L145,588.1 L149.9,602.1 L157,616.2 L166.8,616.2 L176.7,607.1 L179.5,595.1 L185.1,574"/>
<path d="M92.2,619.7 L109.1,617.6 L133,612.7 L147.1,614.8 L158.4,620.4 L166.8,626.1 L178.1,635.9 L187.9,643.7 L200.6,644.4 L214.7,645.1 L228.7,648.6 L242.8,653.5 L251.3,654.2 L262.5,652.1 L271,648.6"/>
<path d="M166.8,624 L178.1,614.8 L187.9,600 L200.6,597.2 L207.6,593.7 L216.1,595.8 L225.9,605 L235.8,617.6 L247,630.3 L256.9,640.2 L271,648.6"/>
<path d="M187.9,600 L180.9,623.3 L176.7,640.2 L175.3,650"/>
<path d="M92.2,652.1 L109.1,650 L124.6,645.1 L138.7,635.9 L155.6,626.1 L166.8,635.9 L178.1,634.5"/>
<path d="M92.2,672.5 L111.9,669.7 L130.2,661.3 L147.1,654.2 L166.8,648.6 L176.7,638.7 L187.9,643.7"/>
<path d="M187.9,643.7 L176.7,647.9 L172.4,655.6 L166.8,665.5 L151.3,681 L134.4,702.8 L123.2,709.1 L111.9,708.4 L92.2,706.3"/>
<path d="M187.9,643.7 L197.8,650 L207.6,654.2 L224.5,665.5 L235.8,676.7 L249.9,695 L262.5,709.1 L271,717.6 L278,724.6"/>
<path d="M176.7,655.6 L189.3,650.7 L197.8,652.8 L206.2,661.3 L217.5,682.4 L231.6,707.7 L242.8,723.2 L252.7,726.7 L262.5,723.2 L271,717.6 L278,717.6"/>
<path d="M176.7,652.8 L172.4,672.5 L166.8,686.6 L161.2,711.9 L155.6,733 L147.1,730.2 L134.4,728.1 L123.2,734.5 L113.3,745.7 L102.1,758.4 L92.2,763.3"/>
<path d="M175.3,650 L168.2,683.8 L162.6,709.1 L157,728.8"/>
<path d="M155.6,742.9 L166.8,737.3 L178.1,742.9 L187.9,747.8 L200.6,747.8 L214.7,745.7 L228.7,742.9 L242.8,742.2 L251.3,749.9 L262.5,766.8 L271,773.9 L278,776"/>
<path d="M187.9,747.8 L197.8,745.7 L211.9,734.5 L224.5,726 L233,725.3 L247,731.6 L261.1,740.8 L271,742.2 L278,744.3"/>
<path d="M271,742.2 L278,730.2"/>
<path d="M187.9,747.8 L176.7,755.6 L155.6,769.6 L149.9,780.9"/>
<path d="M155.6,742.9 L149.9,757 L144.3,778.1 L140.1,780.9"/>
<path d="M92.2,777.4 L102.1,780.9"/>
<path d="M271,647.9 L278,633.1"/>
<path d="M271,647.9 L278,664.1"/>
<path d="M271,773.9 L278,770.3"/>
<path d="M279.9,574 L292.5,595.8 L303.1,595.1 L323.5,576.1 L334.7,582.4 L344.6,595.1 L355.9,607.1 L367.1,613.4 L377,618.3 L386.8,615.5 L393.9,605 L403.7,595.1 L413.6,597.9 L424.8,595.1 L438.9,592.3 L460,591.6"/>
<path d="M292.5,574 L302.4,576.1 L306.6,574"/>
<path d="M323.5,576.1 L331.9,595.1 L344.6,619 L355.9,641.6 L365.7,650.7 L374.2,655.6 L385.4,661.3 L403.7,652.8 L417.8,643 L431.9,630.3 L441.7,622.6 L450.2,620.4 L460,624"/>
<path d="M367.1,613.4 L377,602.1 L386.8,593.7 L403.7,590.9 L413.6,581 L422,578.2 L431.9,581.7 L450.2,587.4 L460,583.9"/>
<path d="M424.8,574 L431.9,578.2 L450.2,587.4"/>
<path d="M365.7,650.7 L375.6,633.1 L385.4,621.9 L393.9,610.6 L410.7,598.6 L424.8,593.7 L445.9,591.2 L460,591.6"/>
<path d="M270,648.6 L281.3,626.1 L292.5,609.2 L303.1,612 L312.2,626.1 L323.5,641.6 L334.7,654.2 L346,662 L357.3,657 L365.7,650.7"/>
<path d="M365.7,650.7 L354.4,652.8 L334.7,654.2 L323.5,657 L313.6,665.5 L302.4,682.4 L292.5,703.5 L281.3,719 L270,716.2"/>
<path d="M270,648.6 L281.3,669.7 L292.5,678.9 L302.4,681 L323.5,689.4 L336.2,691.5 L346,692.2 L355.9,681 L365.7,659.9 L375.6,662.7 L386.8,665.5 L403.7,659.9 L413.6,655.6 L424.8,653.5 L438.9,652.8 L460,652.8"/>
<path d="M365.7,650.7 L375.6,658.4 L385.4,664.1 L393.9,667.6 L403.7,664.1 L413.6,657 L424.8,641.6 L438.9,624.7"/>
<path d="M368.5,659.9 L385.4,666.9 L393.9,679.6 L403.7,686.6 L417.8,681 L431.9,675.3 L445.9,672.5 L460,673.2"/>
<path d="M346,692.2 L355.9,697.9 L367.1,703.5 L377,700.7 L386.8,693.6 L396.7,694.3 L410.7,698.6 L424.8,704.9 L438.9,705.6 L460,705.6"/>
<path d="M270,716.2 L281.3,726 L292.5,738 L302.4,730.2 L313.6,724.6 L323.5,726 L334.7,735.9 L346,751.3 L355.9,761.2 L367.1,766.1 L377,752.7 L386.8,745.7 L393.9,744.3"/>
<path d="M270,716.2 L281.3,718.3 L292.5,722.5 L303.8,725.3 L315,723.2 L329.1,714.7 L346,697.9 L355.9,700.7 L367.1,704.2 L377,702.8 L393.9,699.3 L405.1,707.7 L413.6,721.8 L422,745.7 L431.9,759.8 L450.2,762.6 L460,761.2"/>
<path d="M367.1,704.2 L382.6,703.5 L403.7,707 L413.6,707.7 L424.8,705.6"/>
<path d="M270,741.5 L281.3,745.7 L292.5,755.6 L303.8,752.7 L323.5,728.8 L334.7,714.7 L347.4,704.9 L357.3,705.6 L367.1,708.4 L374.2,717.6 L386.8,723.2 L402.3,731.6 L413.6,742.9 L424.8,755.6 L436.1,771 L450.2,776.7 L460,775.3"/>
<path d="M281.3,726 L274.2,740.1"/>
<path d="M281.3,726 L288.3,747.1 L292.5,755.6 L303.8,766.8 L317.9,764 L334.7,761.2 L346,749.9 L355.9,737.3 L367.1,728.8 L377,725.3 L386.8,728.8 L402.3,740.1 L415,754.2 L424.8,765.4 L434.7,779.5"/>
<path d="M270,773.9 L281.3,768.2 L292.5,761.2 L303.8,766.8"/>
<path d="M270,773.9 L281.3,776.7 L292.5,778.1 L312.2,778.1 L326.3,769.6 L334.7,765.4 L348.8,766.8 L367.1,768.9 L385.4,771 L396.7,775.3 L407.9,780.9"/>
<path d="M315,780.9 L329.1,773.9 L348.8,771 L367.1,768.9 L375.6,780.9"/>
<path d="M367.1,728.8 L382.6,737.3 L396.7,745.7 L410.7,753.5 L422,761.2 L431.9,771 L438.9,776.7"/>
<path d="M368.5,768.9 L379.8,780.9"/>
<path d="M452,585.7 L467.6,580.2 L483.1,576.3 L498.7,575.6 L522,575.6 L532.9,579.4 L543.8,584.9 L553.1,585.7 L564,581 L570.2,574"/>
<path d="M452,591.1 L467.6,590.3 L483.1,588 L490.9,584.9 L498.7,587.2 L509.6,605.1 L522,621.4 L532.9,617.6 L545.3,605.1 L554.7,594.2 L565.6,585.7 L576.4,588 L587.3,592.7 L598.2,596.6 L607.6,595.8 L618.4,595.8 L623.1,594.2 L630.9,586.4 L638.7,574"/>
<path d="M452,591.1 L467.6,594.2 L483.1,605.1 L495.6,619.1 L504.9,630 L514.2,633.9 L522,626.9 L532.9,619.1 L543.8,606.7 L554.7,594.2 L565.6,585.7"/>
<path d="M565.6,585.7 L576.4,588.8 L587.3,597.3 L598.2,600.4 L607.6,598.1 L618.4,595.8"/>
<path d="M452,619.9 L459.8,622.2 L472.2,631.6 L483.1,637.8 L497.1,640.9 L506.4,639.3 L517.3,640.1 L532.9,637.8 L545.3,633.1 L554.7,626.9 L564,617.6 L576.4,605.1 L587.3,598.9 L598.2,612.9 L607.6,604.3 L618.4,612.1 L624.7,616 L638.7,633.1 L649.6,644 L658.9,648.7"/>
<path d="M452,619.9 L461.3,625.3 L472.2,639.3 L483.1,653.3 L497.1,660.3 L506.4,658 L514.2,647.1 L522,647.9 L532.9,651.8 L545.3,659.6 L554.7,663.4 L564,659.6 L576.4,647.1 L587.3,631.6 L598.2,616 L607.6,635.4 L618.4,612.1"/>
<path d="M452,653.3 L467.6,654.1 L483.1,658 L490.9,667.3 L498.7,675.1 L506.4,679 L514.2,668.9 L522,662.7 L532.9,668.9 L545.3,674.3 L560.9,676.7 L576.4,679.8 L587.3,681.3 L598.2,681.3 L607.6,673.6 L618.4,663.4 L630.9,660.3 L646.4,654.9 L658.9,648.7"/>
<path d="M618.4,663.4 L607.6,657.2 L598.2,673.6 L587.3,675.9 L573.3,679 L560.9,681.3 L545.3,683.7 L532.9,679 L522,682.9 L506.4,683.7 L490.9,684.4 L475.3,678.2 L459.8,672.8 L452,672"/>
<path d="M506.4,683.7 L498.7,696.9 L490.9,704.7 L475.3,706.2 L452,706.2"/>
<path d="M506.4,683.7 L522,692.2 L532.9,698.4 L543.8,692.2 L560.9,684.4 L573.3,679.8 L584.2,684.4 L598.2,695.3 L607.6,681.3 L618.4,681.3 L630.9,689.1 L646.4,710.9 L658.9,717.1"/>
<path d="M452,706.2 L475.3,704.7 L498.7,696.9 L514.2,701.6 L532.9,699.2 L542.2,710.9 L560.9,714 L576.4,716.3 L587.3,716.3 L598.2,704.7 L607.6,703.9 L618.4,715.6 L630.9,716.3 L646.4,721.8 L658.9,717.1"/>
<path d="M618.4,681.3 L607.6,704.7 L598.2,725.7 L587.3,727.2 L576.4,721.8 L560.9,720.2 L543.8,715.6 L532.9,717.1 L522,717.9 L506.4,723.3 L490.9,735.8 L475.3,748.2 L464.4,760.7 L452,763"/>
<path d="M532.9,699.2 L543.8,693.8 L554.7,700 L565.6,715.6 L576.4,721.8 L587.3,729.6 L598.2,726.4 L618.4,715.6"/>
<path d="M452,763 L464.4,759.1 L475.3,751.3 L490.9,715.6 L498.7,709.3 L514.2,703.1 L532.9,699.2"/>
<path d="M464.4,780.9 L475.3,760.7 L490.9,751.3 L506.4,738.9 L522,739.7 L532.9,744.3 L543.8,737.3 L554.7,729.6 L565.6,731.1 L576.4,737.3 L587.3,742 L598.2,745.1 L607.6,746.7 L618.4,746.7 L635.6,751.3 L646.4,763.8 L658.9,774.7"/>
<path d="M452,776.2 L467.6,770 L483.1,756 L498.7,747.4 L522,745.9 L532.9,754.4 L543.8,771.6 L553.1,780.9"/>
<path d="M522,739.7 L532.9,729.6 L545.3,723.3 L560.9,721 L576.4,729.6 L588.9,737.3 L599.8,743.6 L607.6,746.7"/>
<path d="M490.9,780.9 L506.4,770 L522,763 L532.9,765.3 L543.8,770.8 L557.8,780.9"/>
<path d="M511.1,780.9 L522,769.2 L532.9,770 L543.8,774.7 L551.6,780.9"/>
<path d="M581.1,780.9 L588.9,771.6 L598.2,757.6 L607.6,751.3 L618.4,757.6 L630.9,754.4 L646.4,745.1 L658.9,742"/>
<path d="M588.9,780.9 L598.2,758.3 L618.4,757.6"/>
<path d="M142.6,157.6 L144.3,167.8"/>
</g>
<rect x="92" y="61.2" width="568" height="720.5" fill="none" stroke="#000" stroke-width="2.2"/>
<text x="5.5" y="966" font-size="35" text-anchor="start" letter-spacing="1.9">(d)</text>
<path d="M195.7,1007.6 V1702" stroke="#80ff80" stroke-width="1.3" stroke-dasharray="3,4" fill="none"/>
<path d="M274,1007.6 V1702" stroke="#80ff80" stroke-width="1.3" stroke-dasharray="3,4" fill="none"/>
<path d="M370.7,1007.6 V1702" stroke="#80ff80" stroke-width="1.3" stroke-dasharray="3,4" fill="none"/>
<path d="M448,1007.6 V1702" stroke="#80ff80" stroke-width="1.3" stroke-dasharray="3,4" fill="none"/>
<path d="M520,1007.6 V1702" stroke="#80ff80" stroke-width="1.3" stroke-dasharray="3,4" fill="none"/>
<path d="M612.1,1007.6 V1702" stroke="#80ff80" stroke-width="1.3" stroke-dasharray="3,4" fill="none"/>
<path d="M104.5,1239.1 H651.5" stroke="#ff6e6e" stroke-width="1.3" stroke-dasharray="3.4,3.5" fill="none"/>
<path d="M94.5,1702 H104.5 M94.5,1586.3 H104.5 M94.5,1470.5 H104.5 M94.5,1354.8 H104.5 M94.5,1239.1 H104.5 M94.5,1123.3 H104.5 M94.5,1007.6 H104.5 M98.5,1644.1 H104.5 M98.5,1528.4 H104.5 M98.5,1412.7 H104.5 M98.5,1296.9 H104.5 M98.5,1181.2 H104.5 M98.5,1065.5 H104.5" stroke="#000" stroke-width="2.2" fill="none"/>
<text x="89" y="1711.6" font-size="33" text-anchor="end" >-4</text>
<text x="89" y="1595.8" font-size="33" text-anchor="end" >-3</text>
<text x="89" y="1480.1" font-size="33" text-anchor="end" >-2</text>
<text x="89" y="1364.4" font-size="33" text-anchor="end" >-1</text>
<text x="89" y="1248.6" font-size="33" text-anchor="end" >0</text>
<text x="89" y="1132.9" font-size="33" text-anchor="end" >1</text>
<text x="89" y="1017.2" font-size="33" text-anchor="end" >2</text>
<text x="107" y="1731" font-size="35" text-anchor="middle" >&#915;</text>
<text x="195.1" y="1731" font-size="35" text-anchor="middle" >A</text>
<text x="271.9" y="1731" font-size="35" text-anchor="middle" >H</text>
<text x="369.5" y="1731" font-size="35" text-anchor="middle" >K</text>
<text x="449" y="1731" font-size="35" text-anchor="middle" >&#915;</text>
<text x="524.5" y="1731" font-size="35" text-anchor="middle" >M</text>
<text x="610" y="1731" font-size="35" text-anchor="middle" >L</text>
<text x="643.8" y="1731" font-size="35" text-anchor="middle" >H</text>
<text x="0" y="0" font-size="35" transform="translate(613.7,1265.3) scale(1.25,1)">E</text>
<text x="0" y="0" font-size="21" transform="translate(638.4,1280) scale(1.18,1)">F</text>
<text x="0" y="0" font-size="34.8" text-anchor="middle" transform="translate(37,1292.7) rotate(-90)">Energy (eV)</text>
<clipPath id="clipD"><rect x="104.5" y="1007.6" width="547" height="694.4"/></clipPath>
<g clip-path="url(#clipD)" fill="none" stroke="#00f" stroke-width="2.3" stroke-linejoin="round" stroke-linecap="round">
<path d="M104.2,1032.9 L114.1,1030 L124.6,1022 L134.5,1022"/>
<path d="M125.3,1022.3 L131,1043.4 L136.6,1063.1 L142.2,1102.5 L145,1130.7 L150.7,1158.8 L156.3,1179.9"/>
<path d="M128.1,1008.2 L136.6,1029.3 L146.4,1050.4 L159.1,1078.6 L166.2,1094.1 L176,1130.7 L185.9,1165.9 L197.1,1182.7"/>
<path d="M133.8,1008.2 L142.2,1016.7 L149.3,1025.1 L155.6,1035 L166.2,1032.9 L180.2,1008.2"/>
<path d="M140.8,1008.2 L146.4,1022.3 L154.9,1044.8 L166.2,1051.9 L176,1063.1 L184.4,1068.7 L195.7,1075.8"/>
<path d="M132.4,1008.2 L139.4,1025.1 L146.4,1050.4 L156.3,1056.1 L166.2,1082.8 L176,1084.2 L184.4,1081.4 L195.7,1075.8"/>
<path d="M146.4,1050.4 L154.9,1046.2"/>
<path d="M104.2,1073 L114.1,1071.6 L125.3,1067.3 L135.2,1061.7 L145,1058.2 L146.4,1063.1 L149.3,1102.5 L156.3,1144.7 L164.7,1179.9"/>
<path d="M195.7,1075.8 L207,1075.8 L219.6,1077.2 L233.7,1078.6 L254.8,1077.9 L268.9,1077.9 L275.9,1079.3"/>
<path d="M195.7,1075.8 L207,1079.3 L219.6,1088.4 L233.7,1096.2 L240.7,1095.5 L254.8,1088.4 L268.9,1082.1 L275.9,1079.3"/>
<path d="M275.9,1079.3 L289.5,1056.9"/>
<path d="M275.9,1079.3 L289.5,1094.9"/>
<path d="M104.2,1138.4 L114.1,1139.8 L125.3,1147.6 L135.2,1158.8 L145,1171.5 L156.3,1179.9 L170.4,1179.9 L178.8,1179.7 L190.1,1181.3 L197.1,1182.7 L208.4,1180.6 L219.6,1175 L232.3,1172.2 L240.7,1175.7 L249.2,1184"/>
<path d="M145,1171.5 L149.3,1184"/>
<path d="M284.4,1184 L289.5,1171.3"/>
<path d="M292.7,1008.2 L296.9,1013.9 L308.1,1018.1 L318,1013.9 L322.2,1008.2"/>
<path d="M332.1,1008.2 L329.3,1017.4 L319.4,1021.6 L308.1,1028.6 L298.3,1043.4 L288.4,1060.3 L280.5,1074.9"/>
<path d="M280.5,1083.5 L287,1092.7 L298.3,1099.7 L308.1,1098.3 L318,1084.2 L322.2,1065.9 L327.9,1046.2 L339.1,1020.2 L349,1026.5 L358.8,1037.8 L370.1,1048.3 L378.5,1045.5 L388.4,1039.2 L396.8,1036.4 L420.7,1035.7 L434.8,1033.6 L447.5,1032.1 L458.7,1033.6 L469.5,1036.2"/>
<path d="M285.6,1184 L298.3,1147.6 L308.1,1125 L318,1102.5 L329.3,1078.6 L339.1,1060.3 L350.4,1047.6 L361.6,1037.8 L370.1,1032.9 L378.5,1032.1 L388.4,1029.3 L399.6,1024.4 L413.7,1017.4 L425,1020.9 L434.8,1027.9 L447.5,1032.1 L458.7,1029.3 L469.5,1022.6"/>
<path d="M370.1,1048.3 L378.5,1045.5 L388.4,1037.8 L405.3,1013.9 L413.7,1012.4 L425,1009.6 L429.2,1008.2"/>
<path d="M316.6,1184 L329.3,1150.4 L339.1,1127.9 L350.4,1106.7 L358.8,1091.3 L370.1,1077.2 L381.3,1071.6 L389.8,1070.2 L406.7,1073 L420.7,1074.4 L434.8,1073.7 L447.5,1072.3 L458.7,1073 L469.5,1075.7"/>
<path d="M370.1,1077.2 L381.3,1084.2 L392.6,1086.3 L406.7,1084.2 L420.7,1078.6 L434.8,1074.4 L447.5,1072.3"/>
<path d="M327.9,1184 L339.1,1158.8 L350.4,1140.5 L360.2,1131.4 L370.1,1128.6 L385.6,1128.6 L406.7,1130 L420.7,1133.5 L434.8,1137 L447.5,1138.4 L458.7,1137 L469.5,1134.3"/>
<path d="M385.6,1128.8 L406.7,1130.7 L420.7,1134.2 L434.8,1137.4"/>
<path d="M460.5,1030.6 L470.2,1025.8 L481.8,1009.8 L483.2,1008.4"/>
<path d="M471.6,1008.4 L481.8,1014.2 L489,1018.5 L503.6,1025.1 L518.1,1027.2 L528.2,1024.3 L539.8,1014.2 L550,1040.3 L561.6,1053.4 L570.3,1067.9 L580.5,1079.5 L600.8,1085.3 L612.4,1096.9"/>
<path d="M507.9,1008.4 L518.1,1017.1 L528.2,1015.6 L539.8,1009.8 L552.9,1020 L570.3,1025.1 L580.5,1047.6 L590.7,1069.3 L601.6,1078 L612.4,1065 L624.1,1067.9 L634.2,1073.7 L650.2,1079.5"/>
<path d="M460.5,1033.9 L474.5,1036.7 L494.8,1040.3 L503.6,1038.1 L518.1,1030.1 L528.2,1030.9 L539.8,1037.4 L550,1050.5 L554.4,1083.8 L560.2,1114.3 L580.5,1133.2 L590.7,1149.2 L599.4,1166.6 L608.1,1184"/>
<path d="M554.4,1008.4 L561.6,1030.1 L567.4,1062.1 L571.8,1073.7 L580.5,1096.9 L592.1,1105.6 L600.8,1104.9 L612.4,1097.6 L624.1,1094 L634.2,1088.2 L650.2,1079.5"/>
<path d="M561.6,1008.4 L570.3,1020 L580.5,1019.2 L590.7,1022.9 L602.3,1011.3 L605.2,1008.4"/>
<path d="M570.3,1008.4 L580.5,1011.3 L590.7,1021.4 L600.8,1046.1 L612.4,1065"/>
<path d="M460.5,1073.4 L474.5,1072.2 L489,1070.8 L500.7,1063.5 L510.8,1058.4 L519.5,1056.3 L529.7,1063.5 L539.8,1083.8 L550,1099.8 L560.2,1120.1 L564.5,1149.2 L570.3,1171 L576.1,1184"/>
<path d="M460.5,1073.5 L474.5,1077.3 L486.1,1083.8 L499.2,1092.6 L510.8,1096.9 L519.5,1098.4 L529.7,1107.1 L539.8,1124.5 L550,1137.6 L560.2,1152.1 L564.5,1171 L567.4,1184"/>
<path d="M460.5,1136.7 L474.5,1131.8 L494.8,1127.4 L507.9,1128.1 L519.5,1128.9 L529.7,1133.2 L539.8,1143.4 L550,1157.9 L560.2,1173.9 L564.5,1184"/>
<path d="M460.5,1137.5 L474.5,1134.7 L494.8,1129.6 L507.9,1129.6 L519.5,1130.3 L529.7,1133.2 L539.8,1146.3 L547.1,1163.7 L554.4,1184"/>
<path d="M146.4,1176 L156.3,1207"/>
<path d="M104.2,1242.9 L114.1,1240.7 L125.3,1235.1 L142.2,1219.6 L156.3,1208.4 L166.2,1198.5 L177.4,1191.5 L187.3,1186.6 L198.5,1183 L212.6,1178.8 L219.6,1176"/>
<path d="M152.1,1176 L156.3,1180.2 L167.6,1180.9 L177.4,1180.2 L190.1,1181.6 L198.5,1183 L212.6,1186.6 L226.7,1194.3 L240.7,1205.6 L254.8,1216.8 L264.7,1223.1 L275.9,1225.3"/>
<path d="M153.5,1178.8 L164.7,1185.9 L176,1190.8"/>
<path d="M164.7,1176 L166.2,1180.2"/>
<path d="M192.9,1176 L197.1,1181.6"/>
<path d="M187.3,1187.3 L197.1,1195 L205.6,1195.7 L219.6,1202.7 L233.7,1212.6 L250.6,1224.6 L261.9,1226 L275.9,1225.3"/>
<path d="M197.1,1195 L187.3,1216.8 L176,1221 L166.2,1199.2"/>
<path d="M146.4,1216.8 L156.3,1212.6 L159.1,1246.4 L164.7,1288.6 L170.4,1323.8 L177.4,1356"/>
<path d="M240.7,1176 L254.8,1192.9 L268.9,1204.9 L275.9,1207 L289.5,1177.1"/>
<path d="M275.9,1207 L287.2,1218.9"/>
<path d="M275.9,1225.3 L289.5,1217.1"/>
<path d="M275.9,1225.3 L287.2,1231.6 L289.5,1237.9"/>
<path d="M104.2,1264 L121.1,1264 L135.2,1265.4 L145,1272.4 L156.3,1291.4 L166.2,1321 L174.6,1356"/>
<path d="M122.5,1356 L135.2,1347 L146.4,1336.5 L156.3,1327.3 L166.2,1325.2 L173.2,1356"/>
<path d="M289.9,1176 L280.5,1200"/>
<path d="M320.8,1176 L308.1,1199.9 L298.3,1211.2 L287,1218.2 L280.5,1223.5"/>
<path d="M332.1,1176 L319.4,1212.6 L308.1,1228.8 L296.9,1230.9 L287,1229.5 L280.5,1226.9"/>
<path d="M280.5,1211 L287,1218.2"/>
<path d="M280.5,1227 L287,1231.6 L296.9,1255.5 L308.1,1264.7"/>
<path d="M292.7,1356 L301.1,1302.7 L308.1,1264.7 L318,1227.4 L329.3,1226 L350.4,1227.4 L370.1,1228.1 L378.5,1228.8 L396.8,1233.7 L420.7,1237.9 L434.8,1240.7 L447.5,1242.9 L458.7,1240.7 L469.5,1236"/>
<path d="M370.1,1228.1 L378.5,1225.3 L388.4,1218.9 L396.8,1217.5 L406.7,1218.9 L415.1,1223.9 L427.8,1233.7 L439,1240.7 L447.5,1242.2"/>
<path d="M306.7,1274.5 L318,1294.2 L329.3,1308.3 L339.1,1314.6 L349,1311.8 L360.2,1303.4 L370.1,1299.9 L378.5,1300.6 L388.4,1305.5 L396.8,1313.9 L405.3,1323.8 L413.7,1308.3 L423.6,1288.6 L432,1275.9 L440.5,1266.8 L448.9,1264 L457.3,1266.1 L469.5,1278.2"/>
<path d="M392.6,1356 L405.3,1326.6 L414.4,1335.7 L423.6,1321 L432,1294.2 L440.5,1271.7 L448.9,1264"/>
<path d="M448.9,1264 L457.3,1270.3 L463,1283 L469.5,1299.9"/>
<path d="M409.5,1356 L414.4,1347.7 L422.2,1347 L433.4,1356"/>
<path d="M463,1356 L469.5,1350.9"/>
<path d="M551.5,1176 L560.2,1194.9 L570.3,1207.9 L580.5,1219.6 L590.7,1215.2 L602.3,1206.5 L612.4,1189.8 L619.7,1190.5 L634.2,1197.8 L644.4,1206.5 L651.6,1207.2"/>
<path d="M561.6,1176 L570.3,1196.3 L580.5,1205 L590.7,1210.8 L602.3,1219.6 L612.4,1227.5"/>
<path d="M566,1176 L573.2,1190.5 L582,1202.1 L590.7,1205 L605.2,1206.5 L615.3,1207.2 L624.1,1210.8 L634.2,1218.1 L651.6,1225.4"/>
<path d="M571.8,1176 L580.5,1192 L590.7,1202.1 L602.3,1206.5"/>
<path d="M605.2,1176 L612.4,1189.8"/>
<path d="M460.5,1239.6 L478.9,1228.3 L496.3,1215.9 L510.8,1206.5 L519.5,1205 L532.6,1206.5 L547.1,1207.9 L560.2,1209.4 L570.3,1218.1 L576.1,1234.1 L580.5,1251.5 L586.3,1292.1 L595,1335.7 L600.8,1356"/>
<path d="M460.5,1239.7 L474.5,1234.1 L489,1231.2 L503.6,1231.2 L519.5,1232.6 L532.6,1231.2 L547.1,1227.5 L561.6,1224.6 L570.3,1222.5"/>
<path d="M580.5,1251.5 L590.7,1250.8 L602.3,1237 L612.4,1227.5 L634.2,1227.5 L651.6,1225.4"/>
<path d="M460.5,1269.6 L471.6,1284.9 L481.8,1302.3 L489,1313.9 L495.6,1324.1 L503.6,1313.9 L510.8,1309.6 L519.5,1307.4 L529.7,1311.7 L539.8,1317.6 L550,1317.6 L560.2,1311 L570.3,1300.9 L580.5,1305.2 L586.3,1335.7 L590.7,1356"/>
<path d="M460.5,1273.2 L467.3,1292.1 L474.5,1313.9 L480.3,1335 L487.6,1332.8 L495.6,1327.7 L503.6,1343 L510.8,1352.4 L518.1,1356"/>
<path d="M465.8,1356 L480.3,1342.2 L487.6,1356"/>
<path d="M104.2,1364.2 L114.1,1361.4 L125.3,1355.7 L135.2,1348"/>
<path d="M170.4,1348 L178.8,1376.1 L183,1404.3 L187.3,1414.2 L197.1,1419.8"/>
<path d="M173.2,1348 L180.2,1376.1 L184.4,1407.1 L187.3,1439.5 L197.1,1419.8"/>
<path d="M176,1348 L184.4,1376.1 L191.5,1401.5 L197.1,1419.8"/>
<path d="M197.1,1419.8 L209.8,1419.8 L226.7,1415.6 L240.7,1413.4 L250.6,1415.6 L261.9,1422.6 L275.9,1432.4"/>
<path d="M197.1,1419.8 L212.6,1422.6 L226.7,1428.2 L240.7,1433.9 L250.6,1434.6 L261.9,1433.2 L275.9,1432.4"/>
<path d="M275.9,1432.4 L288.6,1363.5"/>
<path d="M275.9,1432.4 L289.5,1412.1"/>
<path d="M275.9,1432.4 L283,1446.5 L289.5,1462.2"/>
<path d="M104.2,1373.3 L114.1,1386 L123.9,1415.6 L135.2,1440.9 L145,1457.8 L156.3,1470.4 L166.2,1478.2 L176,1476.1 L187.3,1449.3 L197.1,1487.3 L205.6,1490.9 L215.4,1498.6 L223.9,1508.5 L233.7,1512.7 L254.8,1515.5 L266.1,1516.2 L275.9,1519"/>
<path d="M104.2,1412 L114.1,1414.9 L123.9,1424 L135.2,1456.4 L146.4,1469 L156.3,1476.1 L166.2,1494.4 L176,1487.3 L187.3,1498.6 L198.5,1498.6 L212.6,1500 L223.9,1497.9 L233.7,1491.6 L245,1478.9 L254.8,1464.8 L266.1,1449.3 L275.9,1433.9"/>
<path d="M104.2,1468.3 L109.9,1467.6 L135.2,1467.6 L145,1469 L156.3,1476.8"/>
<path d="M135.2,1467.6 L145,1495.8 L154.9,1519.7 L166.2,1500 L176,1488"/>
<path d="M166.2,1500 L176,1509.9 L187.3,1518.3 L197.1,1511.3 L205.6,1511.3 L223.9,1518.3 L233.7,1514.1 L240.7,1505.6 L250.6,1502.8 L261.9,1507 L275.9,1519"/>
<path d="M197.1,1511.3 L212.6,1516.9 L223.9,1523.9 L226.7,1528"/>
<path d="M197.1,1511.3 L195.7,1528"/>
<path d="M181.6,1528 L197.1,1511.3"/>
<path d="M150.7,1528 L154.9,1519.7"/>
<path d="M275.9,1519 L289.5,1503.4"/>
<path d="M271.7,1528 L275.9,1519 L283,1528"/>
<path d="M275.9,1519 L287.2,1512.7 L289.5,1513.2"/>
<path d="M294.1,1348 L287,1390.2 L280.5,1426.8"/>
<path d="M280.5,1427.5 L296.9,1404.3 L308.1,1390.2 L322.2,1379 L339.1,1370.5 L357.4,1367 L370.1,1366.3 L378.5,1369.1 L388.4,1365.6 L396.8,1348"/>
<path d="M280.5,1439.3 L287,1455 L297.6,1459.2 L308.1,1450.7 L319.4,1440.2 L329.3,1433.9 L339.1,1432.4 L357.4,1436 L370.1,1432.4 L378.5,1422.6 L388.4,1413.4 L396.8,1417.7 L405.3,1422.6 L414.4,1426.1 L423.6,1423.3 L434.8,1417 L448.9,1411.3 L458.7,1412.7 L469.5,1419.5"/>
<path d="M287,1455 L296.9,1477.5 L308.1,1481.7 L319.4,1470.4 L329.3,1452.2 L339.1,1433.2 L350.4,1436.7 L370.1,1443 L378.5,1460.6 L388.4,1464.1 L396.8,1448.6 L405.3,1444.4 L414.4,1450.7 L423.6,1458.5 L434.8,1464.8 L447.5,1467.6 L458.7,1464.8 L469.5,1459.4"/>
<path d="M329.3,1433.2 L339.1,1427.5 L349,1405.7 L360.2,1396.6 L370.1,1393.7 L378.5,1393 L388.4,1388.1 L396.8,1379.7 L405.3,1367.7 L413.7,1348"/>
<path d="M413.7,1348 L420.7,1348 L427.8,1353.6 L439,1361.4 L448.9,1363.8 L458.7,1361.4 L469.5,1354"/>
<path d="M370.1,1443 L378.5,1433.9 L388.4,1436 L396.8,1439.5 L405.3,1422.6 L414.4,1398.7 L423.6,1385.3 L434.8,1376.9 L448.9,1373.3 L458.7,1374.7 L469.5,1380.8"/>
<path d="M280.5,1516.6 L287,1512.7 L298.3,1514.8 L308.1,1519 L319.4,1523.9 L329.3,1526.7 L339.1,1518.3 L350.4,1507.7 L360.2,1500 L370.1,1497.9 L378.5,1490.2 L388.4,1485.2 L396.8,1483.8 L414.4,1483.8 L423.6,1480.3 L434.8,1474 L447.5,1467.6 L458.7,1469.7 L469.5,1475.8"/>
<path d="M280.5,1513.5 L297.6,1493 L308.1,1501.4 L318.7,1511.3 L329.3,1477.5 L339.1,1457.8 L350.4,1445.1 L360.2,1440.9 L370.1,1443"/>
<path d="M370.1,1497.9 L381.3,1509.9 L399.6,1528"/>
<path d="M280.5,1523.2 L284.2,1528"/>
<path d="M460.5,1361.5 L468.7,1356 L476,1348"/>
<path d="M483.2,1348 L494.8,1369.8 L510.8,1385 L519.5,1386.5 L529.7,1390.1 L539.8,1400.3 L550,1411.2 L560.2,1409.7 L571.8,1413.3 L583.4,1422 L600.8,1437.3 L612.4,1451.8 L619.7,1451.8 L634.2,1445.3 L650.2,1433.7"/>
<path d="M506.5,1348 L510.8,1353.8 L519.5,1358.2 L539.8,1356.7 L550,1358.2 L561.6,1366.9 L571.8,1379.2 L583.4,1398.8 L593.6,1420.6 L600.8,1436.6"/>
<path d="M587.8,1348 L595,1384.3 L601.6,1421.3 L612.4,1407.5 L619.7,1407.5 L634.2,1416.2 L650.2,1433.7"/>
<path d="M599.4,1348 L605.2,1377 L612.4,1406.1"/>
<path d="M460.5,1375.1 L474.5,1382.8 L481.8,1394.5 L489,1411.9 L495.6,1427.8 L510.8,1420.6 L519.5,1419.1 L529.7,1417.7 L539.8,1414.8 L550,1423.5 L560.2,1455.4 L571.8,1475.8 L580.5,1485.2 L592.1,1489.6"/>
<path d="M460.5,1414.4 L478.9,1425.7 L489,1430 L503.6,1442.4 L519.5,1438.7 L529.7,1442.4 L539.8,1449.6 L550,1459.8 L561.6,1470 L570.3,1476.5 L580.5,1484.5 L592.1,1489.6"/>
<path d="M460.5,1466.8 L474.5,1459.8 L495.6,1446 L503.6,1465.6 L519.5,1464.9 L529.7,1470 L539.8,1480.1 L550,1491.7 L560.2,1504.1 L580.5,1507.7 L592.1,1489.6 L601.6,1462.7 L612.4,1462.7 L619.7,1461.2 L634.2,1452.5 L650.2,1433.7"/>
<path d="M460.5,1470.2 L481.8,1480.1 L489,1478.7 L503.6,1470.7 L510.8,1491.7 L519.5,1502.6 L529.7,1494.6 L539.8,1481.6 L550,1471.4 L560.2,1470.7 L570.3,1498.3 L580.5,1499.7 L592.1,1489.6 L605.2,1480.1 L612.4,1475 L619.7,1477.2 L634.2,1493.2 L650.2,1519.3"/>
<path d="M592.1,1489.6 L605.2,1478.7 L612.4,1462.7"/>
<path d="M532.6,1528 L547.1,1525.8 L561.6,1522.2 L570.3,1517.9 L580.5,1525.1 L591.4,1501.9 L605.2,1528"/>
<path d="M641.5,1528 L650.2,1520"/>
<path d="M104.2,1574.2 L114.1,1572.1 L125.3,1565 L135.2,1553.8 L146.4,1538.3 L156.3,1520"/>
<path d="M146.4,1538.3 L156.3,1538.3 L166.2,1546.7"/>
<path d="M104.2,1579.8 L114.1,1578.4 L125.3,1576.3 L135.2,1572.1 L146.4,1565 L156.3,1557.3 L166.2,1547.4 L178.8,1534.1 L191.5,1520"/>
<path d="M156.3,1557.3 L166.2,1572.1 L176,1591.8 L187.3,1604.4 L197.1,1617.1"/>
<path d="M195.7,1520 L191.5,1541.1 L187.3,1562.2 L181.6,1576.3 L176,1591.8"/>
<path d="M104.2,1593.2 L114.1,1591.8 L125.3,1586.2 L135.2,1580.5 L146.4,1577 L156.3,1578.4 L166.2,1584.7 L176,1593.2 L187.3,1603.7 L197.1,1617.8"/>
<path d="M104.2,1627.7 L114.1,1626.3 L135.2,1619.9 L146.4,1613.6 L166.2,1599.5 L176,1596 L187.3,1581.9 L197.1,1583.3 L207,1575.6 L215.4,1562.2 L223.9,1555.9 L233.7,1562.2 L247.8,1583.3 L259,1596.7 L268.9,1603.7 L275.9,1607.3"/>
<path d="M187.3,1604.4 L197.1,1583.3"/>
<path d="M104.2,1636.1 L114.1,1635.4 L135.2,1630.5 L146.4,1625.6 L166.2,1618.5 L177.4,1609.4 L187.3,1609.4 L197.1,1617.8"/>
<path d="M197.1,1617.8 L207,1616.4 L226.7,1613.6 L240.7,1611.5 L259,1610.8 L275.9,1607.3"/>
<path d="M197.1,1617.8 L207,1627 L219.6,1646.7 L233.7,1669.2 L247.8,1688.9 L261.9,1700"/>
<path d="M197.1,1617.8 L207,1621.3 L226.7,1628.4 L240.7,1639.6 L254.8,1660.7 L268.9,1681.9 L275.9,1687.5 L289.5,1699.6"/>
<path d="M104.2,1682.6 L114.1,1684 L135.2,1688.2 L146.4,1681.9 L156.3,1667.8 L166.2,1657.2 L176,1646.7 L187.3,1632.6 L197.1,1619.9"/>
<path d="M167.6,1700 L174.6,1653.7 L178.8,1632.6 L185.9,1616.4 L197.1,1619.2"/>
<path d="M167.6,1700 L176,1667.8 L181.6,1646.7 L185.9,1632.6 L187.3,1617.1"/>
<path d="M221,1700 L233.7,1691 L240.7,1690.3 L252,1693.1 L259,1695.2 L268.9,1693.1 L275.9,1687.5 L287.2,1680.5 L289.5,1670.1"/>
<path d="M275.9,1687.5 L287.2,1688.9 L289.5,1692.4"/>
<path d="M275.9,1607.3 L289.5,1584.9"/>
<path d="M275.9,1607.3 L283,1621.3 L289.5,1631.8"/>
<path d="M219.6,1520 L223.9,1522.8 L233.7,1535.5 L240.7,1543.2 L250.6,1546 L259,1542.5 L268.9,1532 L275.9,1522.1 L289.5,1539.1"/>
<path d="M308.1,1520 L329.3,1527 L339.1,1520"/>
<path d="M280.5,1523.5 L288.4,1534.1 L298.3,1546.7 L308.1,1541.1 L318,1528.4 L327.9,1542.5"/>
<path d="M280.5,1524.9 L298.3,1549.6 L308.1,1559.4 L319.4,1551 L327.9,1545.3 L339.1,1549.6 L349,1559.4 L358.8,1569.3 L370.1,1575.6 L378.5,1581.9 L391.2,1586.9 L403.9,1587.6 L413.7,1586.2 L423.6,1581.9 L434.8,1579.8 L448.9,1579.8 L469.5,1579.8"/>
<path d="M391.2,1520 L406.7,1534.1 L420.7,1548.1 L432,1559.4 L441.9,1567.9 L448.9,1573.5 L458.7,1568.6 L469.5,1557.1"/>
<path d="M319.4,1551.7 L329.3,1553.8 L339.1,1579.1 L349,1603 L358.8,1627 L370.1,1631.2 L378.5,1621.3 L387,1605.9 L396.8,1589 L405.3,1580.5 L415.1,1585.4 L423.6,1587.6 L434.8,1583.3 L448.9,1580.5"/>
<path d="M370.1,1575.6 L378.5,1567.9 L388.4,1563.6 L405.3,1574.2 L413.7,1564.3 L423.6,1560.8 L434.8,1565 L448.9,1573.5"/>
<path d="M280.5,1600.6 L287,1587.6 L298.3,1574.9 L308.1,1574.2 L318,1594.6 L329.3,1615.7 L339.1,1628.4 L358.8,1629.8 L370.1,1631.2 L378.5,1632.6 L388.4,1636.8 L396.8,1629.8 L405.3,1627 L415.1,1625.6 L423.6,1621.3 L434.8,1610.1 L448.9,1594.6 L458.7,1600.2 L469.5,1617.7"/>
<path d="M280.5,1614.2 L287,1631.2 L298.3,1643.2 L308.1,1624.2 L318,1620.6 L329.3,1624.9 L339.1,1634 L349,1641.7 L358.8,1637.5 L370.1,1631.9 L378.5,1638.2 L388.4,1642.4 L396.8,1643.9 L406.7,1639.6 L415.1,1631.2 L423.6,1622.7 L434.8,1607.3 L448.9,1593.9 L458.7,1601.6 L469.5,1609.7"/>
<path d="M358.8,1636.8 L370.1,1643.9 L378.5,1642.4 L388.4,1642.4 L396.8,1648.1 L406.7,1639.6"/>
<path d="M423.6,1627.7 L434.8,1627.7 L448.9,1628.4 L469.5,1627"/>
<path d="M298.3,1643.2 L308.1,1648.1 L318,1652.3 L329.3,1657.9 L339.1,1665 L349,1673.4 L358.8,1667.8 L370.1,1654.4 L378.5,1655.1 L395.4,1653.7 L405.3,1660.7 L415.1,1659.3 L423.6,1650.2 L434.8,1641 L448.9,1636.1 L458.7,1637.5 L469.5,1643.6"/>
<path d="M280.5,1685.7 L287,1680.5 L297.6,1646.7 L308.1,1647.4"/>
<path d="M349,1673.4 L370.1,1672 L378.5,1671.3 L396.8,1668.5 L405.3,1670.6 L415.1,1667.8 L423.6,1673.4 L434.8,1679 L448.9,1681.9 L458.7,1680.5 L469.5,1677.8"/>
<path d="M280.5,1687.5 L287,1688.2 L298.3,1698 L308.1,1700.9 L318,1693.1 L339.1,1692.4 L349,1681.9 L358.8,1690.3 L370.1,1700.9"/>
<path d="M333.5,1701.6 L349,1683.3 L358.8,1674.8 L370.1,1673.4 L378.5,1674.8 L388.4,1679 L396.8,1683.3 L406.7,1688.2 L415.1,1694.5 L417.9,1701.6"/>
<path d="M370.1,1700.9 L378.5,1695.9 L388.4,1690.3 L396.8,1683.3 L405.3,1679 L415.1,1686.8 L423.6,1684.7 L434.8,1682.6 L448.9,1682.6 L469.5,1682.6"/>
<path d="M280.5,1693.6 L288.4,1701.6"/>
<path d="M339.1,1701.6 L349,1683.3"/>
<path d="M460.5,1567.4 L473.1,1554.8 L480.3,1552.7 L489,1554.8 L496.3,1553.4 L510.8,1534.5 L519.5,1529.4 L539.8,1527.3 L561.6,1522.9 L570.3,1520"/>
<path d="M571.8,1520 L580.5,1525.8 L583.4,1520"/>
<path d="M460.5,1569 L473.1,1559.2 L489,1557 L496.3,1557.7 L503.6,1554.1 L519.5,1553.4 L529.7,1557.7 L539.8,1562.8 L550,1561.4 L561.6,1553.4 L570.3,1547.6 L580.5,1530.2 L590.7,1538.9 L600.8,1538.9 L612.4,1541.1 L619.7,1540.3 L634.2,1534.5 L650.2,1521.5"/>
<path d="M602.3,1520 L612.4,1540.3"/>
<path d="M460.5,1580.2 L473.1,1578.8 L480.3,1576.6 L489,1569.4 L495.6,1566.5 L503.6,1578.1 L510.8,1589.7 L519.5,1596.2 L529.7,1592.6 L539.8,1583.9 L550,1575.2 L561.6,1563.6 L570.3,1554.8 L580.5,1559.2 L590.7,1565 L600.8,1567.9 L612.4,1567.9 L619.7,1560.7 L634.2,1541.8 L650.2,1521.5"/>
<path d="M460.5,1581.9 L471.6,1586.8 L481.8,1596.9 L493.4,1608.6 L503.6,1620.2 L510.8,1620.9 L519.5,1613.6 L529.7,1612.9 L539.8,1610 L550,1604.2 L561.6,1591.1 L570.3,1581 L580.5,1567.9 L590.7,1569.4 L600.8,1572.3 L612.4,1573.7 L619.7,1581 L634.2,1596.9 L650.2,1607.1"/>
<path d="M460.5,1600.5 L474.5,1618.7 L493.4,1621.6 L503.6,1618.7 L519.5,1610 L532.6,1598.4 L547.1,1578.1 L561.6,1557.7 L570.3,1553.4 L580.5,1550.5 L590.7,1557.7 L600.8,1565 L612.4,1567.9"/>
<path d="M460.5,1627.4 L473.1,1627.4 L483.2,1637.6 L495.6,1657.9 L503.6,1649.2 L510.8,1646.3 L519.5,1650.7 L529.7,1648.5 L539.8,1659.4 L550,1660.1 L561.6,1655 L570.3,1649.2 L580.5,1649.2 L590.7,1662.3 L601.6,1646.3 L612.4,1647.8 L619.7,1650.7 L634.2,1668.1 L650.2,1688.4"/>
<path d="M460.5,1603.6 L465.8,1612.9 L473.1,1621.6 L483.2,1626.7 L496.3,1630.3 L503.6,1631.8 L510.8,1627.4 L519.5,1637.6 L529.7,1643.4 L539.8,1645.6 L550,1644.9 L561.6,1646.3 L580.5,1647 L590.7,1647.8 L601.6,1626 L612.4,1613.6"/>
<path d="M519.5,1637.6 L532.6,1644.9 L547.1,1646.3 L561.6,1646.3 L580.5,1643.4 L590.7,1634.7 L601.6,1621.6 L612.4,1613.6 L627,1612.2 L650.2,1607.1"/>
<path d="M550,1644.9 L561.6,1624.5 L570.3,1610 L580.5,1596.9 L591.4,1584.6 L601.6,1586.1 L612.4,1573"/>
<path d="M551.5,1643.4 L580.5,1560.7"/>
<path d="M460.5,1638.6 L471.6,1644.9 L489,1662.3 L496.3,1663 L510.8,1672.4 L528.2,1679.7 L539.8,1671.7 L550,1673.2 L561.6,1680.4 L580.5,1681.9 L590.7,1672.4 L601.6,1671 L612.4,1647.8"/>
<path d="M460.5,1681 L474.5,1676.8 L489,1670.3 L495.6,1663.7 L510.8,1647.8 L519.5,1638.3"/>
<path d="M460.5,1681.2 L481.8,1681.9 L495.6,1675.3 L503.6,1677.5 L510.8,1673.2 L528.2,1667.4 L539.8,1661.6 L550,1655.7 L561.6,1650.7 L570.3,1649.2"/>
<path d="M481.8,1701.5 L489,1689.1 L496.3,1684.8 L503.6,1683.3 L510.8,1689.1 L519.5,1691.3 L529.7,1685.5 L539.8,1685.5 L550,1692 L561.6,1701.5"/>
<path d="M535.5,1701.5 L539.8,1697.8 L550,1693.5 L561.6,1687 L570.3,1685.5 L580.5,1687 L590.7,1693.5 L601.6,1675.3 L612.4,1685.5 L619.7,1685.5 L634.2,1689.9 L642.9,1692 L650.2,1688.4"/>
<path d="M589.2,1701.5 L601.6,1692.8 L612.4,1685.5"/>
</g>
<rect x="104.5" y="1007.6" width="547" height="694.4" fill="none" stroke="#000" stroke-width="2.2"/>
<text x="715.5" y="428" font-size="35" text-anchor="start" letter-spacing="1.9">(c)</text>
<rect x="866.2" y="415.9" width="350" height="430.6" fill="#000"/>
<defs>
<radialGradient id="gcy" cx="0.5" cy="0.45" r="0.6"><stop offset="0" stop-color="#0abcbc"/><stop offset="0.7" stop-color="#02a8a8"/><stop offset="1" stop-color="#008e8e"/></radialGradient>
<radialGradient id="gmg" cx="0.5" cy="0.4" r="0.6"><stop offset="0" stop-color="#de34de"/><stop offset="1" stop-color="#cc28cc"/></radialGradient>
<radialGradient id="gblob" cx="0.4" cy="0.4" r="0.7"><stop offset="0" stop-color="#f070f0"/><stop offset="1" stop-color="#a020a0"/></radialGradient>
<linearGradient id="grd" x1="0" y1="0" x2="1" y2="0"><stop offset="0" stop-color="#e83030"/><stop offset="1" stop-color="#f04040"/></linearGradient>
</defs>
<path d="M985.3,435.7 L985.3,755" stroke="#fff" stroke-width="5.2" fill="none" stroke-linejoin="round" stroke-linecap="round" />
<path d="M1141.3,440.9 L1141.3,755" stroke="#fff" stroke-width="5.2" fill="none" stroke-linejoin="round" stroke-linecap="round" />
<path d="M880.3,801.5 L935,788" stroke="#fff" stroke-width="5.2" fill="none" stroke-linejoin="round" stroke-linecap="round" />
<path d="M889.3,464.3 C894.1,462.5 907.5,456.9 917.9,453.9 C928.2,450.9 940.3,448.3 951.6,446.1 C962.8,444 973.6,441.6 985.3,440.9 C996.9,440.3 1008.6,441.6 1021.6,442.2 C1034.5,442.9 1053.1,443.7 1063,444.8 C1073,445.9 1077.3,448.5 1081.2,448.7 C1085.1,448.9 1079,446.8 1086.4,446.1 C1093.7,445.5 1114.5,444 1125.3,444.8 C1136.1,445.7 1144.1,448.5 1151.2,451.3 C1158.3,454.1 1167.2,458.4 1168,461.7 C1168.9,464.9 1163.5,467.7 1156.4,470.7 C1149.3,473.8 1136.1,476.1 1125.3,479.8 C1114.5,483.5 1101.9,491.1 1091.6,492.8 C1081.2,494.5 1074.7,490.8 1063,490.2 C1051.4,489.5 1035,489.5 1021.6,488.9 C1008.2,488.2 997.8,487.3 982.7,486.3 C967.5,485.3 943.8,485.1 930.8,482.9 C917.9,480.8 911.8,476.4 904.9,473.3 C898,470.2 891.9,465.8 889.3,464.3 Z" fill="#e82c2e" />
<path d="M881.6,532.4 C883.3,532 887.6,530 891.9,529.8 C896.2,529.6 902.8,529.1 907.5,531.1 C912.2,533.1 916.9,539.2 920.4,541.5 C923.9,543.8 920,544.9 928.2,545 C936.4,545.1 954.1,542.2 969.7,542 C985.3,541.8 1004.4,543 1021.6,544 C1038.8,545 1055.8,548.3 1073,548 C1090.2,547.7 1112,544.2 1125,542 C1138,539.8 1141,537 1151,535 C1161,533 1179.2,529.8 1185,530 C1190.8,530.2 1186,533.6 1186,536 C1186,538.4 1190.7,541.7 1184.9,544.1 C1179.1,546.5 1161.1,548.7 1151.2,550.6 C1141.3,552.5 1134,553.4 1125.3,555.7 C1116.6,558 1107.9,562.6 1099.3,564.3 C1090.7,566 1086.4,566 1073.4,566.1 C1060.5,566.2 1038.9,565.4 1021.6,564.8 C1004.3,564.1 984,562.9 969.7,562.2 C955.4,561.6 942.9,562 936,560.9 C929.1,559.8 931.2,557.2 928.2,555.7 C925.2,554.2 922.6,554.3 917.9,551.9 C913.1,549.5 905.8,544.8 899.7,541.5 C893.7,538.2 884.6,533.9 881.6,532.4 Z" fill="#04aa0c" />
<path d="M884.1,533 C886.7,531.5 891.9,527.1 899.7,523.9 C907.5,520.7 920,517 930.8,513.5 C941.6,510.1 952.9,506.2 964.5,503.2 C976.2,500.1 987,496.9 1000.8,495.4 C1014.6,493.9 1033.2,494.1 1047.5,494.1 C1061.7,494.1 1073.4,494.3 1086.4,495.4 C1099.3,496.5 1113.6,497.5 1125.3,500.6 C1136.9,503.6 1147.7,509.6 1156.4,513.5 C1165,517.4 1172.4,520.4 1177.1,523.9 C1181.9,527.3 1186.6,532.1 1184.9,534.3 C1183.2,536.4 1167.4,535.6 1166.8,536.9 C1166.1,538.2 1183.6,540.2 1181,542 C1178.4,543.9 1162.6,545.4 1151.2,547.7 C1139.7,550.1 1125.3,554.1 1112.3,556.3 C1099.3,558.5 1086.4,560.1 1073.4,560.7 C1060.5,561.3 1047.5,560.6 1034.5,559.7 C1021.6,558.7 1009.5,556.4 995.6,555 C981.8,553.6 963.2,552.1 951.6,551.1 C939.9,550.2 933.4,551.2 925.6,549.3 C917.9,547.4 911.8,542.2 904.9,539.4 C898,536.7 887.6,534 884.1,533 Z" fill="url(#gcy)" />
<path d="M935,593.7 C936.9,592.2 942.4,584.6 946.4,584.6 C950.4,584.6 955.4,589.2 959.3,593.7 C963.2,598.2 968,607.6 969.7,611.9 C971.4,616.2 972.7,616.8 969.7,619.6 C966.7,622.4 956.8,628.7 951.6,628.7 C946.4,628.7 941.4,624.1 938.6,619.6 C935.8,615.1 935.3,605.8 934.7,601.5 C934.1,597.2 935,595 935,593.7 Z" fill="url(#gblob)" />
<polygon points="899.7,637.8 907.5,635.2 910.1,645.6" fill="#04aa0c" />
<path d="M910.1,614.4 C911.4,613.5 914,609.1 917.9,609.3 C921.8,609.5 929.1,611.4 933.4,615.7 C937.7,620 942.9,630.2 943.8,635.2 C944.7,640.2 942.9,642.2 938.6,645.6 C934.3,649 923.1,655.9 917.9,655.9 C912.7,655.9 909.7,649.9 907.5,645.6 C905.3,641.3 904.5,635.2 904.9,630 C905.3,624.8 909.2,617 910.1,614.4 Z" fill="url(#gblob)" />
<polygon points="1008.6,635.2 1021.6,619.6 1034.5,611.9 1055.3,608 1063,606.7 1065.6,588.5 1069.5,606.7 1081.2,611.9 1070.8,617 1076,630 1047.5,635.2 1034.5,653.3 1021.6,663.7 1011.2,668.9 1006,658.5 1007.3,637.8" fill="url(#gblob)" />
<polygon points="1008.6,636.5 1016.4,648.1 1024.2,655.9 1021.6,661.1 1011.2,667.6 1004.7,655.9" fill="#04aa0c" />
<polygon points="1130.5,650.7 1140.8,627.4 1156.4,619.6 1164.2,604.1 1168,611.9 1168,637.8 1164.2,648.1 1151.2,653.3 1140.8,650.7" fill="url(#gblob)" />
<polygon points="1148.6,619.6 1159,622.2 1166.8,637.8 1164.2,648.1 1151.2,653.3 1143.5,643" fill="#04aa0c" />
<path d="M881.6,773 C885.4,772.1 894.5,769.5 904.9,767.8 C915.3,766.1 930,765 943.8,762.6 C957.6,760.2 970.6,755.3 987.9,753.5 C1005.1,751.8 1028.9,752.2 1047.5,752.2 C1066.1,752.2 1086.4,753.1 1099.3,753.5 C1112.3,754 1116.6,753.7 1125.3,754.8 C1133.9,755.9 1142.6,757 1151.2,760 C1159.8,763 1171.5,768.6 1177.1,773 C1182.7,777.3 1185.8,782.9 1184.9,785.9 C1184,789 1177.6,789.4 1171.9,791.1 C1166.3,792.8 1163.3,794.4 1151.2,796.3 C1139.1,798.2 1116.6,801.1 1099.3,802.8 C1082.1,804.5 1064.8,806.2 1047.5,806.7 C1030.2,807.1 1012.9,806.2 995.6,805.4 C978.3,804.5 955.4,803 943.8,801.5 C932.1,800 932.1,798.5 925.6,796.3 C919.2,794.1 910.5,791.1 904.9,788.5 C899.3,785.9 895.8,783.3 891.9,780.7 C888,778.2 883.3,774.3 881.6,773 Z" fill="url(#gcy)" />
<path d="M985,745 C994.3,745.5 1025.5,748.2 1041,748 C1056.5,747.8 1065.8,745.5 1078,744 C1090.2,742.5 1105.3,739.7 1114,739 C1122.7,738.3 1132.3,738.2 1130,740 C1127.7,741.8 1111.7,747.7 1100,750 C1088.3,752.3 1073.8,753.3 1060,754 C1046.2,754.7 1028.7,754.6 1017,754.3 C1005.3,754 995.3,753.5 990,752 C984.7,750.5 985.8,746.2 985,745 Z" fill="#0a5a5a" />
<polygon points="882.2,707 894.4,716.4 918.9,725 943.3,729.9 992.2,732.3 1041.1,734.8 1090,736 1126.7,732.3 1163.3,723.8 1185.3,716 1185.3,722.6 1163.3,731.1 1114.4,738.4 1077.8,743.3 1041.1,748.2 992.2,743.3 943.3,736 914,734.8 905,733 890,720" fill="#e42c2c" />
<polygon points="882.2,706.7 918.9,696.9 950,690 982.4,683.4 1030,683 1082.7,685.9 1120,690 1151.1,694.4 1170,703 1185.3,714 1172,716.5 1185.3,715.2 1163.3,723.8 1126.7,732.3 1090,736 1041.1,734.8 992.2,732.3 943.3,729.9 918.9,725 894.4,716.4" fill="url(#gmg)" />
<path d="M881.6,456.5 L985.3,435.7 L1140.8,440.9 L1190.1,465.6 L1086.4,490.2 L929.5,482.4 L881.6,456.5" stroke="#fff" stroke-width="5.2" fill="none" stroke-linejoin="round" stroke-linecap="round" />
<path d="M881.6,456.5 L881.6,801.5" stroke="#fff" stroke-width="5.2" fill="none" stroke-linejoin="round" stroke-linecap="round" />
<path d="M929.5,482.4 L929.5,828.7" stroke="#fff" stroke-width="5.2" fill="none" stroke-linejoin="round" stroke-linecap="round" />
<path d="M1086.4,490.2 L1086.4,835.2" stroke="#fff" stroke-width="5.2" fill="none" stroke-linejoin="round" stroke-linecap="round" />
<path d="M1191.4,465.6 L1191.4,813.2" stroke="#fff" stroke-width="5.2" fill="none" stroke-linejoin="round" stroke-linecap="round" />
<path d="M880.3,801.5 L929.5,828.7 L1086.4,835.2 L1190.1,813.2" stroke="#fff" stroke-width="5.2" fill="none" stroke-linejoin="round" stroke-linecap="round" />
<path d="M1039.7,466.9 L1191.4,466.9 L1191.4,631.5 L1039.7,631.5 L1039.7,466.9" stroke="#0000ff" stroke-width="3.2" fill="none" stroke-linejoin="round" stroke-linecap="round" />
<path d="M1148.6,477.2 L1191.4,466.9" stroke="#0000ff" stroke-width="3.2" fill="none" stroke-linejoin="round" stroke-linecap="round" />
<path d="M1148.6,477.2 L1148.6,640.7 L1039.7,631.5" stroke="#0000ff" stroke-width="3.2" fill="none" stroke-linejoin="round" stroke-linecap="round" />
<path d="M907.5,779.5 L907.5,548" stroke="#ffff00" stroke-width="3.8" fill="none" stroke-linejoin="round" stroke-linecap="round" />
<polygon points="901.3,551 913.7,551 907.5,537.5" fill="#ffff00" />
<text x="1015.5" y="481.1" font-size="32" style="font-family:'Liberation Sans',sans-serif;fill:#ffff00">A</text>
<text x="0" y="0" font-size="24" style="font-family:'Liberation Sans',sans-serif;fill:#ffff00" transform="translate(1130.5,474.6) scale(1.3,1)">L</text>
<text x="1188.5" y="466.9" font-size="37" style="font-family:'Liberation Sans',sans-serif;fill:#ffff00">H</text>
<text x="1194" y="649.3" font-size="36" style="font-family:'Liberation Sans',sans-serif;fill:#ffff00">K</text>
<text x="0" y="0" font-size="36" style="font-family:'Liberation Sans',sans-serif;fill:#ffff00" transform="translate(1138,676.3) scale(1.1,1)">M</text>
<text x="1025" y="668.5" font-size="34" style="font-family:'Liberation Sans',sans-serif;fill:#ffff00">&#915;</text>
<text x="875" y="669" font-size="33" style="font-family:'Liberation Serif',serif;fill:#ff0000;font-style:italic;font-weight:bold">k</text>
<text x="889" y="672" font-size="20" style="font-family:'Liberation Serif',serif;fill:#ff0000;font-weight:bold">2</text>
<text x="719.5" y="1387" font-size="35" text-anchor="start" letter-spacing="1.9">(f)</text>
<rect x="904.9" y="1373.6" width="325.9" height="383.7" fill="#000"/>
<defs>
<linearGradient id="gtor" x1="0" y1="0" x2="0" y2="1"><stop offset="0" stop-color="#e040e0"/><stop offset="0.4" stop-color="#e646e6"/><stop offset="0.55" stop-color="#a42ca4"/><stop offset="0.66" stop-color="#cc3acc"/><stop offset="0.82" stop-color="#ea5cea"/><stop offset="1" stop-color="#d040d0"/></linearGradient>
<linearGradient id="gcyf" x1="0" y1="0" x2="0" y2="1"><stop offset="0" stop-color="#047a7a"/><stop offset="0.4" stop-color="#069a9a"/><stop offset="0.7" stop-color="#0cbcbc"/><stop offset="1" stop-color="#08a4a4"/></linearGradient>
<linearGradient id="gredf" x1="0" y1="0" x2="0" y2="1"><stop offset="0" stop-color="#f03a3a"/><stop offset="1" stop-color="#c02626"/></linearGradient>
</defs>
<path d="M1003.6,1394 L1003.6,1700" stroke="#fff" stroke-width="5" fill="none" stroke-linejoin="round" stroke-linecap="round" />
<path d="M1137.2,1395 L1137.2,1700" stroke="#fff" stroke-width="5" fill="none" stroke-linejoin="round" stroke-linecap="round" />
<path d="M950.2,1408.4 C954.6,1407.2 968.4,1403.2 976.9,1401.2 C985.4,1399.1 991.1,1397.3 1001.2,1396.3 C1011.3,1395.3 1025.5,1395.2 1037.6,1395.1 C1049.8,1395 1061.9,1395.4 1074.1,1395.8 C1086.2,1396.2 1100.4,1397 1110.5,1397.5 C1120.6,1398 1126.7,1397.7 1134.8,1398.7 C1142.9,1399.7 1149.8,1401.2 1159.1,1403.6 C1168.4,1406 1188.7,1410.9 1190.7,1413.3 C1192.7,1415.7 1180.6,1415.3 1171.2,1418.2 C1161.9,1421 1142.9,1427.4 1134.8,1430.3 C1126.7,1433.2 1126.7,1434.5 1122.7,1435.7 C1118.6,1436.8 1114.6,1437.5 1110.5,1437.1 C1106.5,1436.7 1104.4,1434.4 1098.4,1433.2 C1092.3,1432 1082.2,1430.6 1074.1,1429.8 C1066,1429 1059.9,1428.2 1049.8,1428.4 C1039.6,1428.5 1021.4,1429.6 1013.3,1430.8 C1005.2,1432 1006,1435.1 1001.2,1435.7 C996.3,1436.2 990.2,1436.5 984.2,1434 C978.1,1431.4 970.4,1424.8 964.7,1420.6 C959.1,1416.3 952.6,1410.5 950.2,1408.4 Z" fill="url(#gredf)" />
<path d="M972,1476.5 C976.9,1477.5 992.3,1481.3 1001.2,1482.5 C1010.1,1483.8 1017.4,1483.6 1025.5,1483.8 C1033.6,1484 1041.7,1483.4 1049.8,1483.8 C1057.9,1484.2 1063.9,1485.2 1074.1,1486.2 C1084.2,1487.2 1100.4,1489.8 1110.5,1489.8 C1120.6,1489.8 1126.7,1488.2 1134.8,1486.2 C1142.9,1484.2 1151,1479.7 1159.1,1477.7 C1167.2,1475.7 1177.1,1474.9 1183.4,1474 C1189.7,1473.2 1194.9,1471.8 1196.8,1472.8 C1198.6,1473.8 1200.6,1477.7 1194.3,1480.1 C1188.1,1482.5 1169,1485 1159.1,1487.4 C1149.2,1489.8 1142.9,1493.1 1134.8,1494.7 C1126.7,1496.3 1120.6,1497.1 1110.5,1497.1 C1100.4,1497.1 1086.2,1495.5 1074.1,1494.7 C1061.9,1493.9 1049.8,1492.9 1037.6,1492.3 C1025.5,1491.7 1011.3,1492.1 1001.2,1491 C991.1,1490 981.7,1488.6 976.9,1486.2 C972,1483.8 972.8,1478.1 972,1476.5 Z" fill="#04aa0c" />
<path d="M936.8,1469.2 C939.4,1468 947.5,1465 952.6,1462.4 C957.7,1459.7 963.1,1456.5 967.2,1453.4 C971.2,1450.3 973.6,1446.6 976.9,1443.7 C980.1,1440.7 978.5,1437.8 986.6,1435.7 C994.7,1433.5 1010.9,1431.8 1025.5,1430.8 C1040.1,1429.7 1059.9,1429.2 1074.1,1429.3 C1088.2,1429.5 1100,1430.1 1110.5,1431.8 C1121,1433.4 1131.2,1436.4 1137.2,1439.1 C1143.3,1441.7 1142.9,1444.8 1147,1447.8 C1151,1450.8 1156.3,1453.9 1161.5,1457 C1166.8,1460.2 1172.9,1464.1 1178.5,1466.8 C1184.2,1469.4 1194.7,1471.4 1195.5,1472.8 C1196.4,1474.2 1189.5,1474.2 1183.4,1475.3 C1177.3,1476.3 1167.2,1477.1 1159.1,1478.9 C1151,1480.7 1142.9,1484.2 1134.8,1486.2 C1126.7,1488.2 1120.6,1490.8 1110.5,1491 C1100.4,1491.3 1084.2,1488.4 1074.1,1487.4 C1063.9,1486.4 1057.9,1485.6 1049.8,1485 C1041.7,1484.4 1033.6,1484 1025.5,1483.8 C1017.4,1483.6 1009.3,1484.4 1001.2,1483.8 C993.1,1483.2 985,1481.7 976.9,1480.1 C968.8,1478.5 959.3,1475.9 952.6,1474 C945.9,1472.2 939.4,1470 936.8,1469.2 Z" fill="url(#gcy)" />
<path d="M949.6,1534.7 C951.9,1533.1 955.1,1527.6 963.1,1525 C971.1,1522.4 985.6,1520.6 997.8,1519.3 C1010,1518 1023.5,1517.8 1036.3,1517.3 C1049.1,1516.8 1062,1516.2 1074.8,1516.4 C1087.6,1516.6 1100.4,1517.5 1113.3,1518.3 C1126.2,1519.1 1142.3,1519.4 1151.9,1521.2 C1161.5,1523 1167.6,1525.1 1171.1,1528.9 C1174.6,1532.8 1172.3,1539.1 1173,1544.3 C1173.7,1549.5 1175,1555.2 1175,1560 C1175,1564.8 1176.8,1569.4 1173,1573.2 C1169.2,1577 1158.6,1579.9 1151.9,1582.8 C1145.2,1585.7 1140.6,1588.9 1132.6,1590.5 C1124.6,1592.1 1113.3,1592.4 1103.7,1592.4 C1094.1,1592.4 1086,1590.5 1074.8,1590.5 C1063.6,1590.5 1049.1,1592.1 1036.3,1592.4 C1023.5,1592.7 1009,1593 997.8,1592.4 C986.6,1591.8 976.9,1590.5 968.9,1588.6 C960.9,1586.7 953.8,1586 949.6,1580.9 C945.4,1575.8 943.9,1565.5 943.9,1557.8 C943.9,1550.1 948.6,1538.5 949.6,1534.7 Z" fill="url(#gtor)" />
<path d="M1040.2,1525 C1042.1,1523.9 1047.2,1519.4 1051.7,1518.3 C1056.2,1517.2 1062.9,1517 1067.1,1518.3 C1071.3,1519.6 1078.2,1524.4 1076.7,1526 C1075.2,1527.6 1064.1,1528.2 1058,1528 C1051.9,1527.8 1043.2,1525.5 1040.2,1525 Z" fill="#e02c2c" />
<path d="M943.9,1538.5 C946.5,1538.8 955.4,1538.5 959.3,1540.4 C963.1,1542.3 966,1547.1 967,1550 C968,1552.9 966.5,1555.8 965,1557.8 C963.5,1559.8 957.7,1559.4 958,1562 C958.3,1564.6 965.2,1569.1 967,1573.2 C968.8,1577.3 971.5,1584.1 968.9,1586.7 C966.3,1589.3 956.1,1590.2 951.6,1588.6 C947.1,1587 943.2,1582.1 941.9,1577 C940.6,1571.9 943.6,1564.2 943.9,1557.8 C944.2,1551.4 943.9,1541.7 943.9,1538.5 Z" fill="#04aa0c" />
<ellipse cx="952" cy="1566.5" rx="6.5" ry="4.5" fill="#000"/>
<path d="M1148,1552 C1150.2,1550.7 1157,1545.3 1161.5,1544.3 C1166,1543.3 1172.4,1544 1175,1546.2 C1177.6,1548.5 1176.9,1552.7 1176.9,1557.8 C1176.9,1562.9 1177.6,1571.5 1175,1577 C1172.4,1582.5 1167,1587.9 1161.5,1590.5 C1156,1593.1 1145.7,1593.4 1142.2,1592.4 C1138.7,1591.4 1138.7,1587.9 1140.3,1584.7 C1141.9,1581.5 1150.3,1576.7 1151.9,1573.2 C1153.5,1569.7 1150.6,1567.1 1149.9,1563.6 C1149.2,1560.1 1148.3,1553.9 1148,1552 Z" fill="#04aa0c" />
<path d="M1028.6,1557.8 C1031.5,1557.5 1040.1,1555.9 1045.9,1555.9 C1051.7,1555.9 1058.5,1556.5 1063.3,1557.8 C1068.1,1559.1 1073.5,1561 1074.8,1563.6 C1076.1,1566.2 1070.3,1569.7 1071,1573.2 C1071.7,1576.7 1074.2,1581.8 1078.7,1584.7 C1083.2,1587.6 1095.3,1588.6 1097.9,1590.5 C1100.5,1592.4 1101.1,1594.7 1094.1,1596.3 C1087,1597.9 1066.2,1600.2 1055.6,1600.2 C1045,1600.2 1035.3,1597.9 1030.5,1596.3 C1025.7,1594.7 1026.4,1592.8 1026.7,1590.5 C1027,1588.2 1030.9,1585.9 1032.4,1582.8 C1034,1579.7 1036.6,1576.2 1036,1572 C1035.4,1567.8 1029.8,1560.2 1028.6,1557.8 Z" fill="#04aa0c" />
<path d="M1032.4,1557 C1035,1556.8 1042.5,1555.8 1048,1555.9 C1053.5,1556 1063.2,1556.2 1065.2,1557.5 C1067.2,1558.8 1064.2,1562.5 1060,1563.6 C1055.8,1564.7 1044.6,1565.1 1040,1564 C1035.4,1562.9 1033.7,1558.2 1032.4,1557 Z" fill="#c82a2a" />
<path d="M1036.3,1575.1 C1038.9,1574.8 1047.2,1573.2 1051.7,1573.2 C1056.2,1573.2 1059.8,1572.5 1063.3,1575.1 C1066.8,1577.7 1074.2,1586 1072.9,1588.6 C1071.6,1591.2 1061,1591.2 1055.6,1590.5 C1050.1,1589.8 1043.4,1587.3 1040.2,1584.7 C1037,1582.1 1037,1576.7 1036.3,1575.1 Z" fill="#b02424" />
<path d="M977.7,1658 C991.4,1658.7 1033.4,1661.5 1060,1662 C1086.6,1662.5 1124.8,1660.7 1137.4,1661 C1150,1661.3 1136.8,1662.1 1135.4,1664 C1134,1665.9 1129.4,1668.1 1129.1,1672.2 C1128.8,1676.3 1130.2,1684.7 1133.3,1688.8 C1136.4,1692.9 1141.9,1696.1 1147.8,1697.1 C1153.7,1698.1 1160.9,1695.7 1168.5,1695 C1176.1,1694.3 1189.2,1689.2 1193.4,1693 C1197.6,1696.8 1197.6,1713.8 1193.4,1717.9 C1189.2,1722.1 1177.8,1717.2 1168.5,1717.9 C1159.2,1718.6 1146.7,1719.2 1137.4,1722 C1128.1,1724.8 1126.3,1732.6 1112.5,1734.5 C1098.7,1736.4 1072.8,1733.4 1054.5,1733.4 C1036.2,1733.4 1014.7,1735.4 1002.6,1734.5 C990.5,1733.6 991.2,1731 981.9,1728.2 C972.6,1725.4 954.2,1720.3 946.6,1717.9 C939,1715.5 937.6,1717.9 936.2,1713.7 C934.8,1709.5 935.9,1696.8 938.3,1693 C940.7,1689.2 945.2,1692 950.7,1690.9 C956.2,1689.9 965.5,1688.4 971.5,1686.7 C977.5,1685 984.6,1683.2 987,1680.5 C989.4,1677.8 987.5,1674 986,1670.2 C984.5,1666.5 979.1,1660 977.7,1658 Z" fill="url(#gcyf)" />
<path d="M977,1655 C983,1655.7 1000.1,1657.7 1013,1659 C1025.9,1660.3 1040.7,1662.5 1054.5,1663 C1068.3,1663.5 1083.8,1662.3 1095.9,1662 C1108,1661.7 1116.6,1662 1127,1660.9 C1137.4,1659.9 1147.1,1658.2 1158.2,1655.7 C1169.3,1653.2 1187.5,1647 1193.4,1646 C1199.3,1645 1199.3,1647.5 1193.4,1650 C1187.5,1652.5 1169.3,1658.2 1158.2,1661 C1147.1,1663.8 1137.4,1665.7 1127,1667 C1116.6,1668.3 1108,1668.5 1095.9,1669 C1083.8,1669.5 1068.3,1670.5 1054.5,1670 C1040.7,1669.5 1025.1,1667.3 1013,1666 C1000.9,1664.7 987.9,1663.8 981.9,1662 C975.9,1660.2 977.8,1656.2 977,1655 Z" fill="#e02c2c" />
<path d="M936.2,1641.1 C940.4,1639.9 952.5,1636 961.1,1633.9 C969.8,1631.8 980.8,1630.4 988.1,1628.7 C995.4,1627 993.6,1624.4 1004.7,1623.5 C1015.8,1622.6 1039.3,1623.5 1054.5,1623.5 C1069.7,1623.5 1083.8,1623.2 1095.9,1623.5 C1108,1623.8 1118.3,1624 1127,1625.6 C1135.7,1627.1 1136.7,1629.7 1147.8,1632.8 C1158.9,1635.9 1185.8,1641.6 1193.4,1644.2 C1201,1646.8 1199.3,1646.2 1193.4,1648.4 C1187.5,1650.7 1169.3,1655.3 1158.2,1657.7 C1147.1,1660.1 1137.4,1661.9 1127,1662.9 C1116.6,1663.9 1108,1663.6 1095.9,1663.9 C1083.8,1664.2 1068.3,1665.5 1054.5,1665 C1040.7,1664.5 1025.1,1662 1013,1660.8 C1000.9,1659.6 992.3,1659.2 981.9,1657.7 C971.5,1656.2 958.3,1653.4 950.7,1651.5 C943.1,1649.6 938.6,1648 936.2,1646.3 C933.8,1644.6 936.2,1642 936.2,1641.1 Z" fill="#dc34dc" />
<path d="M980,1712 C981.2,1711.6 985.3,1708.6 987,1709.6 C988.7,1710.6 989.7,1714.3 990.2,1718 C990.7,1721.7 991.4,1729.8 990,1732 C988.6,1734.2 983.7,1733 982,1731 C980.3,1729 980.1,1723.2 979.8,1720 C979.5,1716.8 980,1713.3 980,1712 Z" fill="#d02a2a" />
<path d="M1071,1730 C1073.3,1728.7 1080.5,1724 1085,1722 C1089.5,1720 1095.1,1717.2 1098,1717.9 C1100.9,1718.6 1102.2,1723 1102.2,1726 C1102.2,1729 1102,1734.2 1098,1736 C1094,1737.8 1082.5,1737.5 1078,1736.5 C1073.5,1735.5 1072.2,1731.1 1071,1730 Z" fill="#d02a2a" />
<path d="M1129.1,1715 C1130.9,1714.8 1135.5,1712.2 1140,1713.7 C1144.5,1715.2 1154.4,1720.6 1156.1,1724 C1157.8,1727.4 1153.5,1732.2 1150,1734 C1146.5,1735.8 1138.5,1737.7 1135,1734.5 C1131.5,1731.3 1130.1,1718.2 1129.1,1715 Z" fill="#d02a2a" />
<path d="M933.2,1412.1 L1003.6,1393.9 L1137.2,1395.1 L1199.2,1413.3 L1127.5,1431.5 L991.5,1431.5 L933.2,1412.1" stroke="#fff" stroke-width="5" fill="none" stroke-linejoin="round" stroke-linecap="round" />
<path d="M933.2,1412.1 L933.2,1719.1" stroke="#fff" stroke-width="5" fill="none" stroke-linejoin="round" stroke-linecap="round" />
<path d="M991.8,1431.5 L991.8,1739.8" stroke="#fff" stroke-width="5" fill="none" stroke-linejoin="round" stroke-linecap="round" />
<path d="M1125.6,1431.5 L1125.6,1739.8" stroke="#fff" stroke-width="5" fill="none" stroke-linejoin="round" stroke-linecap="round" />
<path d="M1200.4,1413.3 L1200.4,1721.6" stroke="#fff" stroke-width="5" fill="none" stroke-linejoin="round" stroke-linecap="round" />
<path d="M931.9,1719.1 L991.5,1739.8 L1125.1,1739.8 L1200.4,1721.6" stroke="#fff" stroke-width="5" fill="none" stroke-linejoin="round" stroke-linecap="round" />
<path d="M1057,1412.1 L1199.2,1412.1 L1199.2,1558" stroke="#0000ff" stroke-width="3.4" fill="none" stroke-linejoin="round" stroke-linecap="round" />
<path d="M1171.2,1566 L1171.2,1423 L1197,1414" stroke="#0000ff" stroke-width="3.4" fill="none" stroke-linejoin="round" stroke-linecap="round" />
<path d="M1057,1484 L1057,1516" stroke="#0000ff" stroke-width="3.6" fill="none" stroke-linejoin="round" stroke-linecap="round" />
<path d="M1057,1414 V1484 M1057,1517 V1559 H1199.2 M1057,1561 L1171.2,1566" stroke="#0000ff" stroke-width="4.2" fill="none" stroke-dasharray="4,5.2" stroke-linecap="butt"/>
<text x="1035.5" y="1430.3" font-size="25" style="font-family:'Liberation Sans',sans-serif;fill:#ff40c8">A</text>
<text x="1205.5" y="1418.2" font-size="25" style="font-family:'Liberation Sans',sans-serif;fill:#ff40c8">H</text>
<text x="1152.5" y="1442.5" font-size="23" style="font-family:'Liberation Sans',sans-serif;fill:#ff40c8">L</text>
<text x="1207.5" y="1567.6" font-size="25" style="font-family:'Liberation Sans',sans-serif;fill:#ff40c8">K</text>
<text x="1053.5" y="1579.4" font-size="23" style="font-family:'Liberation Sans',sans-serif;fill:#ff40c8">&#915;</text>
<text x="1160" y="1592.8" font-size="28" style="font-family:'Liberation Serif',serif;fill:#ff40c8">M</text>
</svg>
</body></html>
